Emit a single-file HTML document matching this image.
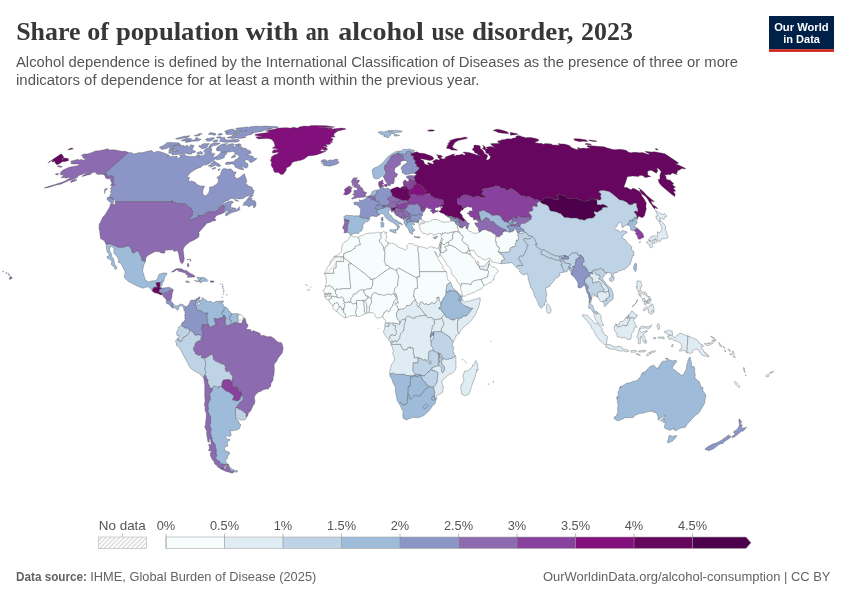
<!DOCTYPE html>
<html lang="en"><head><meta charset="utf-8"><title>Share of population with an alcohol use disorder, 2023</title>
<style>
html,body{margin:0;padding:0;background:#fff;}
body{width:850px;height:600px;overflow:hidden;position:relative;font-family:"Liberation Sans",sans-serif;}
svg{position:absolute;left:0;top:0;}
text{font-family:"Liberation Sans",sans-serif;}
.title{font-family:"Liberation Serif",serif;font-weight:700;font-size:26px;fill:#373737;}
.sub{font-size:14px;fill:#555;}
.leg{font-size:12.8px;fill:#555;text-anchor:middle;}
.foot{font-size:12.6px;fill:#636363;}
.logo{font-weight:700;font-size:11.8px;fill:#fff;text-anchor:middle;}
#map path{stroke:#3c3c3c;stroke-width:0.32;stroke-linejoin:round;}
</style></head><body>
<svg width="850" height="600" viewBox="0 0 850 600">
<defs>
<pattern id="hatch" width="4.6" height="4.6" patternUnits="userSpaceOnUse" patternTransform="rotate(45)"><rect width="4.6" height="4.6" fill="#fff"/><rect x="0" y="0" width="2.3" height="4.6" fill="#e9e9e9"/></pattern>
<pattern id="hatchL" width="3.2" height="3.2" patternUnits="userSpaceOnUse" patternTransform="rotate(45)"><rect width="3.2" height="3.2" fill="#fff"/><rect x="0" y="0" width="1.3" height="3.2" fill="#d9d9d9"/></pattern>
</defs>
<rect width="850" height="600" fill="#fff"/>
<text class="title" y="39.9" xml:space="preserve"><tspan x="16.2" textLength="64.2" lengthAdjust="spacingAndGlyphs">Share</tspan> <tspan x="87.3" textLength="21.7" lengthAdjust="spacingAndGlyphs">of</tspan> <tspan x="115.9" textLength="123.0" lengthAdjust="spacingAndGlyphs">population</tspan> <tspan x="245.4" textLength="53.0" lengthAdjust="spacingAndGlyphs">with</tspan> <tspan x="305.7" textLength="23.3" lengthAdjust="spacingAndGlyphs">an</tspan> <tspan x="338.2" textLength="85.7" lengthAdjust="spacingAndGlyphs">alcohol</tspan> <tspan x="431.6" textLength="32.6" lengthAdjust="spacingAndGlyphs">use</tspan> <tspan x="471.9" textLength="101.5" lengthAdjust="spacingAndGlyphs">disorder,</tspan> <tspan x="581.1" textLength="51.8" lengthAdjust="spacingAndGlyphs">2023</tspan></text>
<text class="sub" x="16" y="66.8" textLength="722" lengthAdjust="spacingAndGlyphs">Alcohol dependence is defined by the International Classification of Diseases as the presence of three or more</text>
<text class="sub" x="16" y="84.8" textLength="463.5" lengthAdjust="spacingAndGlyphs">indicators of dependence for at least a month within the previous year.</text>
<g id="logo">
<rect x="769" y="16" width="65" height="33.2" fill="#002147"/>
<rect x="769" y="49.2" width="65" height="2.7" fill="#ce261e"/>
<text class="logo" x="801.4" y="30.6" textLength="54.5" lengthAdjust="spacingAndGlyphs">Our World</text>
<text class="logo" x="801.6" y="42.6" textLength="36.8" lengthAdjust="spacingAndGlyphs">in Data</text>
</g>
<g id="map">
<path d="M128.4,152.4L131.4,152.7L134.0,154.0L139.4,152.4L141.6,152.7L148.6,151.1L152.1,150.5L153.4,152.7L157.2,151.3L161.3,152.0L166.0,153.7L169.6,155.5L167.3,156.4L169.3,156.6L174.8,156.4L176.8,156.0L177.2,157.3L177.9,158.7L180.9,156.4L179.4,155.3L184.7,154.2L186.3,156.0L190.4,156.6L195.9,156.4L196.7,155.1L198.6,154.6L200.5,155.5L198.9,157.5L201.4,155.7L202.7,155.7L205.4,153.5L204.6,152.2L203.4,151.3L205.7,149.0L209.0,147.5L210.9,147.7L211.6,148.8L211.9,151.1L209.5,152.2L212.3,152.7L210.4,154.9L214.1,153.1L214.9,154.6L213.2,156.2L213.6,157.8L216.6,156.2L219.3,154.2L221.3,151.8L223.4,152.0L225.8,152.2L227.1,153.3L226.2,154.4L224.3,155.7L224.7,156.9L223.7,158.0L219.4,159.6L216.8,159.8L215.4,159.1L214.0,160.2L211.0,162.3L209.9,163.2L206.6,164.8L204.0,165.1L201.9,166.0L200.8,167.4L198.5,167.9L194.8,169.7L191.1,172.3L189.1,174.2L186.9,177.1L189.6,177.4L188.7,179.8L188.6,181.5L191.5,181.0L194.5,182.0L195.8,182.9L196.5,184.2L198.3,184.9L199.9,185.9L202.8,186.1L204.8,186.4L203.5,188.4L202.8,190.8L202.8,193.6L204.6,196.1L206.5,195.3L208.8,192.6L209.7,188.8L209.1,187.4L212.7,186.4L215.7,184.7L217.7,182.9L218.4,181.2L218.2,179.1L216.9,177.4L220.6,174.7L220.9,172.6L222.5,169.0L224.1,168.4L226.8,169.0L228.5,169.3L230.3,168.8L231.6,169.5L233.0,170.9L233.0,171.9L236.3,171.9L235.2,174.0L234.2,177.1L235.7,177.4L236.5,178.8L239.8,177.4L242.9,174.7L244.5,173.8L245.0,175.9L246.1,178.8L246.9,181.7L245.4,183.4L247.4,184.7L248.6,186.1L251.4,186.9L252.4,187.6L252.5,189.6L253.7,190.1L254.2,190.8L253.3,193.8L251.7,194.6L250.0,195.6L246.4,196.3L243.2,198.6L239.7,198.9L235.5,198.4L232.5,198.4L230.4,198.6L228.2,200.4L225.2,201.4L221.0,204.9L217.8,207.2L219.6,206.7L224.0,203.4L229.0,201.4L232.2,201.1L233.5,202.4L231.1,204.0L230.8,206.7L230.8,208.8L233.1,210.0L236.7,209.5L239.6,206.7L239.3,208.5L240.2,209.5L237.3,211.1L232.1,212.6L229.9,213.6L226.8,215.7L225.4,215.4L225.9,213.1L230.3,211.1L227.0,211.1L224.5,211.6L223.6,210.0L224.8,206.5L224.2,205.7L222.2,205.7L220.0,207.5L218.6,209.5L215.4,211.8L208.3,211.8L204.4,214.2L203.1,215.4L198.0,215.7L198.2,216.2L198.1,217.2L194.9,218.5L189.6,220.3L188.5,219.3L190.8,217.0L192.1,215.4L192.9,211.1L191.2,209.8L191.7,209.0L190.9,208.0L189.6,207.7L187.1,205.4L184.2,203.4L182.0,204.2L179.3,203.4L176.9,203.4L175.2,202.7L172.2,202.1L172.6,200.6L171.3,201.6L114.7,201.6L115.6,200.9L113.2,199.1L109.6,197.1L110.1,194.8L111.6,193.3L110.1,192.1L111.3,190.1L110.4,188.4L111.4,187.1L114.7,184.4L113.0,182.7L113.8,178.3L112.9,176.2L110.6,175.7L107.3,177.1L107.2,174.5L104.2,173.8ZM113.4,202.9L109.5,202.1L106.8,199.1L107.6,197.1L112.9,198.1L113.6,201.4ZM104.8,193.6L104.3,190.6L105.2,188.6L107.7,188.8L104.8,191.6ZM242.5,205.2L246.6,205.2L248.9,207.0L250.5,205.7L253.0,204.8L253.6,207.7L254.7,207.5L256.0,205.4L255.9,202.4L254.1,202.9L255.5,201.0L251.1,200.1L252.3,198.4L251.0,198.7L249.3,199.6L251.4,197.3L253.5,195.1L251.5,195.1L248.8,197.3L245.5,201.4L243.4,202.9L244.8,203.7ZM231.4,207.5L236.1,208.3L234.7,209.3L232.1,209.0ZM233.9,199.4L237.0,199.9L238.7,201.4L235.3,200.6ZM243.5,169.9L239.2,169.0L236.0,167.6L234.5,166.5L235.5,165.8L231.7,163.4L231.3,164.1L225.9,164.6L225.0,163.7L227.1,162.1L230.4,162.1L234.1,161.7L234.1,160.9L235.4,159.8L239.0,157.5L239.1,156.6L239.0,155.7L237.1,154.6L234.0,154.0L235.6,153.4L234.7,152.0L233.2,152.0L232.5,151.1L231.2,151.8L227.9,152.2L222.4,151.6L219.3,150.9L216.8,150.7L216.2,149.8L218.6,149.0L216.3,149.0L217.6,146.8L220.6,144.9L223.0,144.1L227.6,143.5L225.3,144.7L225.3,146.2L228.2,144.5L233.1,143.6L234.0,145.8L232.7,147.1L236.3,146.5L238.5,145.7L241.2,146.8L242.8,147.7L242.2,148.8L245.8,148.1L246.4,149.6L249.8,150.5L250.7,151.3L251.1,153.3L247.4,154.4L250.5,155.8L252.9,156.3L254.3,158.4L256.9,158.5L255.6,160.1L251.2,162.8L249.5,161.8L248.0,159.6L245.6,159.9L244.6,161.2L245.7,162.5L247.6,163.6L248.0,164.2L247.9,166.5L246.5,168.2L244.5,167.5L241.1,165.6L242.5,167.7L243.6,169.1ZM215.0,161.2L214.6,162.3L215.7,161.8L216.3,162.5L217.8,163.2L219.4,164.0L218.7,165.1L220.2,164.9L220.9,165.8L218.9,166.5L216.6,165.9L216.2,164.8L213.6,166.1L210.3,167.3L210.6,165.9L208.0,166.1L210.3,165.0L211.8,163.2L213.8,161.2ZM191.5,144.7L194.2,145.8L193.0,147.9L192.0,149.4L195.8,151.6L194.8,152.4L191.9,152.7L192.2,153.5L191.0,154.3L188.2,154.0L185.9,153.3L183.8,153.5L180.0,154.2L175.3,154.6L172.1,154.9L172.3,153.7L170.7,153.1L168.9,153.3L168.7,151.6L169.9,151.4L172.9,151.1L175.2,151.1L177.8,150.7L175.0,150.3L171.2,150.5L168.9,150.5L169.0,149.6L173.7,148.8L171.2,148.8L169.0,148.2L172.2,146.6L174.2,145.8L180.0,144.5L181.1,144.9L179.3,145.9L183.6,145.2L184.6,146.3L187.6,145.2L188.2,146.0L187.4,148.0L189.1,147.1L190.3,145.0ZM169.5,142.4L174.5,142.7L178.5,142.7L179.3,143.3L180.0,144.1L177.2,144.7L171.6,146.2L167.9,147.7L166.9,148.5L161.3,149.6L161.5,148.8L159.2,147.5L161.0,146.6L163.9,145.2L167.3,142.4ZM204.7,143.4L206.2,143.8L209.3,143.6L209.1,144.2L206.6,145.2L208.1,146.1L206.1,148.0L202.6,148.8L201.2,148.6L200.9,147.8L198.5,146.2L199.2,145.5L202.2,145.8L201.8,144.4ZM213.9,145.6L210.7,147.2L209.0,147.1L209.7,145.3L210.8,144.2L212.5,143.4L214.6,142.8L217.8,142.9L220.3,143.4L216.2,145.2ZM219.4,141.3L219.9,140.2L220.8,139.2L220.3,138.3L217.4,138.1L216.3,137.5L217.9,136.7L220.8,136.8L221.8,137.4L224.7,137.4L225.3,138.1L224.2,138.8L225.5,139.3L225.9,139.8L227.9,139.9L230.0,140.0L232.9,139.6L236.2,139.4L238.5,139.6L239.5,140.3L239.1,141.2L237.6,141.7L234.9,142.2L233.1,141.9L228.3,142.2L225.1,142.3L222.8,142.0L219.3,141.3ZM206.6,140.9L208.0,139.7L205.3,139.9L207.1,138.3L208.7,138.4L211.8,137.7L213.8,137.8L214.2,137.6L214.3,138.5L213.1,139.5L210.7,141.0L208.0,141.2ZM217.8,141.1L216.1,141.9L214.0,141.7L212.7,141.2L214.5,140.2L217.3,139.7L217.9,140.4ZM198.2,138.6L197.9,139.3L199.6,139.0L201.1,139.0L200.2,140.0L198.1,141.0L192.5,141.3L187.5,142.2L185.0,142.3L185.6,141.6L190.0,140.7L182.7,140.9L181.0,140.6L185.8,138.6L188.0,138.0L191.3,138.7L192.5,139.9L195.0,140.1L195.3,138.1L197.6,137.4ZM190.0,135.7L187.7,137.2L185.5,137.9L184.0,138.0L179.9,138.9L177.0,139.2L175.6,138.7L180.3,137.3L185.3,136.0L187.6,136.0ZM269.9,126.3L273.4,126.4L276.2,126.6L278.3,127.0L277.9,127.4L273.9,128.1L270.2,128.4L268.6,128.8L271.6,128.8L267.4,129.8L264.6,130.3L260.8,131.7L257.5,132.0L256.3,132.4L251.7,132.6L253.4,132.8L252.1,133.1L252.4,134.1L250.4,134.7L247.6,135.3L246.1,136.0L243.5,136.6L243.2,137.0L245.9,137.0L245.5,137.4L240.3,138.6L236.8,138.1L232.1,138.4L230.0,138.1L227.3,138.0L228.1,137.1L231.4,136.6L232.2,135.3L233.2,135.1L236.3,135.9L235.6,134.7L233.6,134.4L235.6,133.6L238.7,133.2L239.9,132.5L238.6,131.8L239.1,130.9L242.9,131.0L243.8,131.2L246.8,130.6L243.8,130.4L238.7,130.5L236.9,129.9L236.6,129.2L235.6,128.7L236.0,128.2L238.5,127.9L240.1,127.8L243.2,127.6L245.9,127.0L247.5,127.1L248.5,127.5L250.5,126.7L252.6,126.4L255.3,126.3L259.5,126.2L260.0,126.4L264.2,126.1ZM237.7,132.0L238.8,132.6L236.2,133.1L231.9,134.5L229.1,134.6L226.3,134.4L225.7,133.6L226.5,133.0L228.3,132.5L225.6,132.5L224.8,131.9L224.9,131.1L228.6,129.8L230.2,129.7L230.1,129.3L233.5,129.2L234.1,130.1L238.0,130.8ZM219.1,133.4L220.9,133.5L221.6,133.6L222.6,134.3L221.3,134.9L218.6,135.3L218.0,134.9L218.3,134.2ZM210.7,132.6L212.7,132.9L215.7,133.6L215.7,134.5L215.3,135.2L213.1,135.0L211.5,134.4L208.3,134.3L210.5,133.8L209.3,133.3ZM200.3,133.5L200.9,133.6L202.3,133.9L200.0,134.3L197.6,134.3L198.0,134.0ZM200.4,135.1L199.1,135.6L195.6,136.2L194.2,135.6L196.3,135.0L198.7,134.8ZM234.6,144.5L239.6,143.8L241.4,144.9L241.1,145.5L239.5,145.4L237.8,145.4L235.8,145.7L235.4,145.6L234.6,144.5ZM202.7,152.7L203.0,153.5L201.3,154.3L199.6,153.6L198.0,153.9L196.6,152.9L198.7,152.2L200.6,151.3ZM215.6,167.6L216.2,168.1L213.3,169.3L212.1,169.3L212.1,168.7L214.1,167.6ZM219.3,168.8L220.0,168.9L220.2,169.4L218.7,170.6L218.0,170.4L218.0,169.7L218.2,169.5ZM234.9,155.3L235.8,156.0L235.2,156.9L231.4,158.0L231.6,156.9L233.1,155.6Z" fill="#8c96c6"/>
<path d="M299.0,127.0L304.2,126.1L308.9,126.2L310.9,125.6L315.8,125.5L326.5,125.7L334.6,126.9L331.8,127.5L326.5,127.5L319.1,127.7L319.6,128.0L324.6,127.8L328.6,128.3L331.4,127.9L332.4,128.4L330.5,129.4L334.3,128.8L341.2,128.1L345.3,128.5L346.0,129.2L340.0,130.4L339.1,130.8L334.5,131.1L337.8,131.1L335.8,132.5L334.3,133.6L333.8,135.8L335.3,137.0L332.9,137.1L330.3,137.7L332.8,138.8L332.8,140.5L331.1,140.7L332.7,142.4L329.2,142.6L330.9,143.4L330.2,144.2L327.9,144.5L325.6,144.5L327.3,145.9L327.1,146.9L324.1,146.0L323.2,146.6L325.2,147.1L327.1,148.4L327.3,150.1L324.3,150.5L323.2,149.7L321.5,148.5L321.7,149.9L319.5,151.1L323.9,151.2L326.1,151.3L321.3,153.2L316.3,154.9L311.2,155.7L309.3,155.7L307.3,156.5L304.3,158.9L300.1,160.5L298.9,160.6L296.4,161.2L293.7,161.7L291.7,163.1L291.2,164.7L289.8,166.3L286.3,168.1L286.4,170.0L285.0,171.9L283.3,174.2L280.7,174.4L278.6,172.5L275.0,172.4L273.7,171.1L273.3,168.8L271.4,165.9L271.1,164.4L271.7,162.3L270.2,160.2L271.6,158.6L270.8,157.8L273.6,155.2L276.5,154.3L277.6,153.4L278.8,151.7L276.5,152.5L275.4,152.8L273.8,153.1L272.1,152.4L272.7,150.9L273.9,149.8L275.5,149.7L278.5,150.3L276.4,149.0L275.3,148.2L273.5,148.5L272.4,148.0L275.3,146.0L274.8,145.2L274.3,143.8L273.8,141.6L272.3,140.8L272.9,140.0L269.6,138.8L266.4,138.6L262.3,138.7L258.5,138.9L257.2,138.2L255.7,137.0L260.1,136.4L263.2,136.3L257.3,135.8L254.6,135.0L255.5,134.2L261.9,133.3L268.0,132.5L269.2,131.8L265.9,131.2L267.7,130.5L273.7,129.3L275.9,129.1L276.0,128.4L279.6,128.0L284.1,127.7L288.4,127.7L289.5,128.2L293.8,127.3L296.7,127.9L298.5,128.0L301.1,128.6L298.3,127.7Z" fill="#810f7c"/>
<path d="M115.7,201.6L115.0,203.7L113.7,206.0L113.6,203.9L110.9,203.2L109.6,207.0L108.7,208.8L104.7,215.2L102.5,217.5L100.7,221.9L99.2,224.0L99.1,226.6L99.2,229.9L99.8,231.0L99.9,233.6L100.6,238.8L103.1,240.1L104.5,240.9L105.9,244.3L111.6,243.8L111.2,244.3L118.5,247.4L124.6,247.4L125.1,246.1L128.8,246.1L131.4,249.2L131.5,251.8L134.2,253.4L136.1,251.3L138.5,251.3L140.0,255.2L141.3,257.3L141.5,260.2L144.8,261.5L145.5,261.4L145.8,257.8L148.2,255.2L152.3,252.9L155.3,251.6L159.2,251.8L161.2,252.9L164.7,253.2L164.9,250.3L168.5,250.0L173.0,249.8L174.1,251.6L177.0,250.5L178.5,252.9L179.0,256.0L179.8,259.9L180.2,261.5L181.2,263.3L182.8,263.3L183.9,260.7L184.3,258.9L183.8,255.0L183.2,250.8L183.3,249.0L184.6,246.4L186.9,244.3L190.2,241.7L193.1,240.4L196.6,238.5L198.8,237.0L199.2,233.6L198.7,232.5L200.8,230.2L202.4,228.6L203.1,227.6L205.2,225.5L206.3,223.4L210.5,222.2L211.4,221.4L213.2,220.9L214.3,220.9L215.6,220.6L215.9,219.6L214.7,219.6L214.8,218.0L215.6,216.7L217.1,215.2L219.7,214.4L222.1,213.4L224.5,212.4L224.5,211.6L223.6,210.0L224.8,206.5L224.2,205.7L222.2,205.7L220.0,207.5L218.6,209.5L215.4,211.8L208.3,211.8L204.4,214.2L203.1,215.4L198.0,215.7L198.2,216.2L198.1,217.2L194.9,218.5L189.6,220.3L188.5,219.3L190.8,217.0L192.1,215.4L192.9,211.1L191.2,209.8L191.7,209.0L190.9,208.0L189.6,207.7L187.1,205.4L184.2,203.4L182.0,204.2L179.3,203.4L176.9,203.4L175.2,202.7L172.2,202.1L172.6,200.6L171.3,201.6ZM128.4,152.4L125.5,151.3L122.0,151.3L119.1,150.7L113.7,149.8L109.6,150.0L107.7,148.8L103.8,149.8L99.3,150.7L95.7,150.9L90.8,152.9L87.2,154.0L84.2,154.0L81.4,155.2L83.1,156.9L82.8,158.0L85.2,158.4L85.9,159.3L82.8,160.2L81.3,159.2L79.5,160.2L78.0,159.3L74.5,160.2L70.7,161.2L71.4,162.5L70.7,163.4L73.0,164.0L76.5,163.9L79.6,163.9L77.6,165.8L74.4,166.2L70.8,166.9L69.1,167.2L64.2,169.5L61.7,170.9L60.2,173.3L60.6,175.0L63.9,174.5L62.0,176.9L60.9,177.8L64.4,177.4L66.0,178.3L68.0,177.4L71.0,177.1L66.4,180.3L62.9,182.0L58.7,183.2L55.1,184.4L49.8,186.1L44.8,187.6L44.3,188.1L48.5,187.4L51.6,186.6L56.1,185.1L60.7,184.2L68.4,180.7L74.1,179.1L77.9,177.1L77.6,175.9L78.9,175.4L82.4,174.2L85.3,172.8L89.3,171.4L90.1,172.1L86.4,172.8L81.7,176.4L84.8,175.9L86.7,175.2L90.5,174.5L92.0,172.8L94.6,172.3L96.6,172.3L95.7,173.3L98.0,174.5L100.8,174.2L103.5,174.5L104.6,175.2L105.8,178.1L107.4,178.8L110.4,178.8L110.9,181.2L112.0,183.2L110.4,185.6L113.5,185.9L114.7,184.4L113.0,182.7L113.8,178.3L112.9,176.2L110.6,175.7L107.3,177.1L107.2,174.5L104.2,173.8ZM73.8,181.5L70.9,182.5L70.7,181.7L71.6,180.5L74.1,179.8L76.6,179.5L76.8,180.3ZM58.6,165.5L59.0,166.0L60.4,165.8L60.9,166.5L62.4,166.7L61.9,166.9L60.0,167.4L59.2,166.9L59.1,166.5L57.2,166.7L57.2,166.5ZM57.7,173.5L58.9,173.8L57.9,174.7L56.4,175.1L55.3,174.0ZM10.4,279.2L12.3,278.2L11.6,276.9L10.2,276.4L9.5,277.7L9.5,279.4ZM10.0,275.2L8.9,274.3L8.8,275.3ZM7.7,273.8L8.9,273.8L8.2,274.1ZM6.9,273.5L5.7,272.9L6.4,272.5L6.9,273.1ZM3.5,271.7L2.5,271.5L3.1,271.1L3.5,271.2Z" fill="#8c6bb1"/>
<path d="M106.1,244.3L111.6,243.8L111.2,244.3L118.5,247.4L124.6,247.4L125.1,246.1L128.8,246.1L131.4,249.2L131.5,251.8L134.2,253.4L136.1,251.3L138.5,251.3L140.0,255.2L141.3,257.3L141.5,260.2L144.8,261.5L145.5,261.4L143.7,265.2L142.6,270.4L143.3,273.2L144.5,277.2L145.1,279.2L146.3,280.6L148.4,281.9L152.4,280.8L155.4,280.8L157.5,278.7L158.6,275.1L159.0,274.3L163.2,273.0L166.4,273.0L166.8,274.8L165.2,276.4L164.6,277.9L163.7,281.3L162.6,281.1L162.2,280.8L160.6,282.6L156.3,282.6L156.1,284.1L157.2,286.3L157.1,287.2L154.1,287.2L152.7,289.3L152.5,291.3L149.1,287.3L147.3,286.8L143.0,288.3L139.8,287.1L136.1,285.5L131.9,283.2L128.1,281.3L125.3,278.7L123.9,275.9L125.1,274.0L124.9,270.9L122.7,267.0L120.9,263.3L118.2,262.3L118.7,259.4L116.8,256.3L114.0,253.4L113.8,247.7L110.5,246.1L109.4,250.3L111.4,253.9L111.8,256.5L113.8,259.4L114.7,264.4L116.3,266.2L116.8,268.5L115.2,269.6L113.8,266.5L111.2,264.6L112.0,261.2L109.6,259.2L107.5,258.4L106.8,256.8L108.9,255.8L109.3,254.5L107.1,251.8L106.2,246.6Z" fill="#9ebcda"/>
<path d="M152.5,291.3L152.7,289.3L154.1,287.2L157.1,287.2L157.2,286.3L156.1,284.1L156.3,282.6L160.5,282.6L159.8,287.6L160.4,287.6L162.0,288.1L159.5,289.7L159.5,290.7L159.0,291.5L157.1,293.2L154.6,292.8Z" fill="#66065f"/>
<path d="M160.5,282.6L160.6,282.3L162.2,280.8L162.6,281.1L163.0,281.9L162.3,283.2L162.4,284.7L160.4,287.6L159.8,287.6Z" fill="#9ebcda"/>
<path d="M157.1,293.2L159.0,291.5L160.8,293.0L162.4,292.8L162.3,294.1L162.0,294.8L160.6,294.8Z" fill="#66065f"/>
<path d="M159.0,291.5L159.5,290.7L159.5,289.7L162.0,288.1L163.6,287.9L167.1,287.6L169.4,287.3L170.7,287.9L172.8,289.2L173.3,290.0L171.3,290.6L169.3,290.5L167.2,292.7L166.3,292.6L164.7,293.2L163.3,295.2L163.0,294.4L162.3,294.1L162.4,292.8L160.8,293.0Z" fill="#8c96c6"/>
<path d="M163.3,295.2L164.7,293.2L166.3,292.6L167.2,292.7L169.3,290.5L171.3,290.6L173.3,290.0L172.2,293.6L171.9,296.7L171.4,298.8L170.8,300.5L168.9,300.1L166.6,300.1L164.9,298.3L162.4,295.4Z" fill="#8c6bb1"/>
<path d="M166.6,300.1L168.9,300.1L170.8,300.5L171.8,302.0L173.6,304.1L172.7,305.3L172.6,308.0L171.2,307.0L170.8,306.4L168.7,304.0L167.7,304.0L166.4,303.3L166.1,300.7Z" fill="#8c96c6"/>
<path d="M173.6,304.1L174.3,305.1L176.1,306.1L178.5,305.3L180.4,304.0L182.9,304.6L185.4,306.5L185.0,306.9L185.7,308.4L184.0,310.3L183.4,307.4L182.5,306.4L181.4,305.6L180.3,305.9L178.8,307.4L178.2,310.0L177.1,310.3L176.4,309.1L175.3,308.0L172.6,308.0L172.7,305.3Z" fill="#9ebcda"/>
<path d="M171.3,272.1L172.6,271.2L175.5,269.1L177.8,268.6L181.6,268.8L184.3,270.6L186.5,270.4L188.9,272.6L190.9,273.8L192.2,274.2L193.6,275.1L195.2,276.2L194.9,276.8L193.3,277.1L187.0,277.3L188.6,275.9L187.8,275.2L186.4,275.0L185.3,272.7L184.1,272.8L182.1,272.1L178.6,271.2L177.8,270.7L178.7,270.0L176.5,269.9L174.7,271.2L173.4,271.9Z" fill="#8c6bb1"/>
<path d="M197.3,277.1L200.6,277.7L200.7,279.1L199.8,280.5L200.2,282.0L198.7,281.6L197.6,281.7L196.3,281.5L194.3,280.4L198.1,280.9L198.9,280.4L198.0,279.2L198.1,278.3L196.7,277.8Z" fill="#9ebcda"/>
<path d="M200.6,277.7L202.7,277.2L204.6,277.8L204.9,278.8L206.2,278.7L208.0,280.5L207.1,281.6L205.0,281.1L203.8,281.5L202.9,281.7L201.9,281.4L200.8,283.2L200.2,282.0L199.8,280.5L200.7,279.1Z" fill="#9ebcda"/>
<path d="M187.0,280.8L188.5,281.1L189.9,282.4L188.3,282.5L186.3,282.5L185.2,281.5Z" fill="#9ebcda"/>
<path d="M210.5,280.8L214.1,281.1L213.6,282.2L210.4,282.3Z" fill="#8c6bb1"/>
<path d="M187.8,263.3L188.4,263.3L189.0,265.7L188.1,267.2L187.1,264.9ZM189.4,258.9L191.0,259.7L190.3,261.5L190.1,259.9ZM186.9,259.2L188.8,259.4L187.6,259.9Z" fill="#8c6bb1"/>
<path d="M221.1,301.2L223.4,300.8L223.1,302.7L221.1,302.7Z" fill="#9ebcda"/>
<path d="M222.0,284.5L222.5,283.9L223.0,284.5L222.4,285.0ZM220.0,283.9L220.4,283.6L220.7,283.9L220.3,284.3ZM222.2,286.7L222.9,285.9L223.5,286.7L222.8,287.5ZM222.7,288.9L223.2,288.3L223.6,288.9L223.1,289.4ZM223.2,290.9L223.8,290.2L224.4,290.9L223.8,291.5ZM223.3,292.8L223.7,292.4L224.1,292.8L223.7,293.3ZM222.8,294.6L223.1,294.3L223.4,294.6L223.1,295.0ZM226.4,294.8L226.9,294.3L227.3,294.8L226.8,295.2ZM221.5,297.5L221.8,297.1L222.2,297.5L221.8,297.9Z" fill="#9ebcda"/>
<path d="M185.4,306.5L186.7,306.7L188.4,304.8L189.3,304.6L189.9,301.4L191.4,300.1L192.8,300.1L194.8,299.9L197.7,298.0L199.6,296.7L200.3,297.5L199.7,298.3L198.2,298.8L195.9,301.8L195.5,303.8L194.8,305.2L195.9,305.4L196.7,307.2L196.5,309.7L197.1,310.0L200.5,310.6L201.9,310.9L203.4,313.2L207.3,312.7L208.1,313.2L207.0,315.5L207.0,317.4L208.1,320.0L206.9,321.8L207.8,322.3L208.2,323.2L208.9,325.8L208.5,326.2L208.1,324.6L206.6,324.7L202.2,324.7L202.2,326.3L203.6,326.5L203.5,327.5L203.0,327.3L201.7,327.7L201.7,329.6L202.7,330.5L203.1,332.0L202.1,340.3L200.9,338.9L200.2,338.9L201.7,336.2L199.9,335.0L198.6,335.2L197.7,334.8L196.5,335.4L194.7,335.1L193.3,332.4L192.2,331.7L189.3,329.5L188.3,328.9L187.2,328.0L186.5,328.4L184.6,328.1L184.0,326.9L183.6,327.0L181.3,325.5L181.0,324.7L181.9,324.5L181.8,323.2L182.4,322.2L183.5,322.1L184.6,320.5L185.4,319.1L184.6,318.4L185.1,316.9L184.6,314.5L185.2,313.8L184.9,311.6L184.0,310.3L185.7,308.4L185.0,306.9Z" fill="#8c96c6"/>
<path d="M199.7,298.3L199.6,299.0L198.2,299.3L198.9,300.5L198.8,301.8L197.7,303.3L198.4,305.4L199.4,305.2L200.0,303.4L199.4,302.5L199.4,300.5L202.3,299.4L202.1,298.2L202.9,297.4L203.6,299.2L205.2,299.2L206.6,300.7L206.7,301.6L208.7,301.6L211.2,301.3L212.4,302.5L214.2,302.8L215.5,302.0L215.6,301.3L218.4,301.2L221.2,301.1L219.2,301.9L219.9,303.1L221.7,303.3L223.4,304.6L223.7,306.7L224.9,306.7L225.8,307.3L223.9,308.8L223.7,309.8L224.4,310.7L223.9,311.2L222.4,311.6L222.4,312.8L221.8,313.5L223.3,315.5L223.6,316.3L222.7,317.3L220.1,318.2L218.5,318.6L217.8,319.3L215.9,318.6L214.2,318.3L213.8,318.5L214.8,319.2L214.7,320.9L215.0,322.6L217.0,322.8L217.1,323.4L215.4,324.1L215.1,325.2L214.2,325.6L212.5,326.2L212.0,327.0L210.2,327.2L208.9,325.8L208.2,323.2L207.8,322.3L206.9,321.8L208.1,320.0L207.0,317.4L207.0,315.5L208.1,313.2L207.3,312.7L203.4,313.2L201.9,310.9L200.5,310.6L197.1,310.0L196.5,309.7L196.7,307.2L195.9,305.4L194.8,305.2L195.5,303.8L195.9,301.8L198.2,298.8Z" fill="#9ebcda"/>
<path d="M225.8,307.3L227.3,308.2L228.6,309.9L228.7,311.3L229.5,311.3L230.7,312.6L231.6,313.5L231.2,315.9L229.8,316.5L229.9,317.1L229.4,318.5L230.4,320.4L231.1,320.4L231.4,321.9L232.8,324.1L232.2,324.2L230.9,324.0L230.2,324.7L229.2,325.2L228.4,325.3L228.2,325.8L227.0,325.7L225.6,324.4L225.5,323.2L224.9,321.9L225.3,319.7L226.0,318.8L225.5,317.6L224.7,317.2L225.0,316.0L224.5,315.4L223.3,315.5L221.8,313.5L222.4,312.8L222.4,311.6L223.9,311.2L224.4,310.7L223.7,309.8L223.9,308.8Z" fill="#9ebcda"/>
<path d="M231.6,313.5L234.3,314.0L234.6,313.6L236.5,313.4L238.9,314.1L237.7,316.3L237.8,318.1L238.7,319.7L238.3,320.8L238.0,322.0L237.5,323.1L236.1,322.5L235.0,322.8L234.1,322.5L233.9,323.3L234.2,323.8L234.1,324.3L232.8,324.1L231.4,321.9L231.1,320.4L230.4,320.4L229.4,318.5L229.9,317.1L229.8,316.5L231.2,315.9Z" fill="#9ebcda"/>
<path d="M238.9,314.1L239.7,314.4L241.4,315.0L243.8,317.2L244.1,318.2L242.7,320.6L242.0,322.6L241.1,323.6L240.0,323.7L239.7,323.0L239.2,322.9L238.4,323.6L237.5,323.1L238.0,322.0L238.3,320.8L238.7,319.7L237.8,318.1L237.7,316.3Z" fill="url(#hatch)" stroke="#b8b8b8"/>
<path d="M244.1,318.2L244.9,318.1L245.5,319.6L246.7,324.1L247.9,324.6L248.0,326.4L246.2,328.5L246.9,329.3L251.0,329.7L251.1,332.3L252.9,330.6L255.7,331.6L259.6,333.1L260.7,334.7L260.4,336.1L263.0,335.3L267.5,336.7L271.0,336.6L274.4,338.8L277.4,341.7L279.2,342.4L281.1,342.5L282.0,343.4L282.8,346.7L283.2,348.3L282.4,352.6L281.3,354.3L278.2,357.9L276.8,360.9L275.2,363.1L274.6,363.2L274.1,365.1L274.4,370.0L274.0,374.0L273.9,375.7L273.2,376.8L273.0,380.3L270.9,383.6L270.7,386.4L268.9,387.5L268.5,389.1L266.1,389.1L262.6,390.0L261.1,391.2L258.7,392.0L256.2,394.1L254.5,396.6L254.4,398.6L254.9,400.0L254.8,402.7L254.5,403.9L253.1,405.4L251.2,410.0L249.6,412.0L248.3,413.3L247.7,415.8L246.5,417.2L245.7,415.8L246.4,414.5L244.9,412.8L242.9,411.3L240.4,409.6L239.6,409.7L237.0,407.7L235.6,408.0L238.1,404.4L240.2,401.9L241.6,400.8L243.3,399.4L243.1,397.3L241.8,395.8L240.8,396.3L241.0,394.8L241.2,393.2L241.1,391.8L240.2,391.3L239.4,391.7L238.5,391.6L238.2,390.6L237.8,388.2L237.3,387.5L235.7,386.8L234.8,387.3L232.4,386.8L232.2,383.2L231.4,381.8L232.1,381.2L231.7,379.7L232.3,378.6L232.5,376.5L231.8,374.9L230.5,374.2L230.2,373.2L230.4,371.6L226.0,371.5L224.9,368.5L225.6,368.5L225.5,367.3L225.0,366.6L224.8,365.1L223.4,364.3L222.0,364.3L221.0,363.6L219.4,363.0L218.4,362.1L215.8,361.6L213.2,359.3L213.3,357.5L213.0,356.5L213.1,354.6L210.1,355.0L209.0,356.0L207.0,357.1L206.6,357.8L205.4,357.9L203.7,357.7L202.4,358.1L201.3,357.8L201.3,353.9L199.5,355.4L197.5,355.3L196.5,353.9L195.0,353.8L195.4,352.7L194.1,351.1L193.0,348.7L193.6,348.3L193.5,347.2L194.9,346.4L194.6,345.0L195.2,344.1L195.3,342.9L197.9,341.1L199.8,340.6L200.1,340.2L202.1,340.3L203.1,332.0L202.7,330.5L201.7,329.6L201.7,327.7L203.0,327.3L203.5,327.5L203.6,326.5L202.2,326.3L202.2,324.7L206.6,324.7L208.1,324.6L208.5,326.2L208.9,325.8L210.2,327.2L212.0,327.0L212.5,326.2L214.2,325.6L215.1,325.2L215.4,324.1L217.1,323.4L217.0,322.8L215.0,322.6L214.7,320.9L214.8,319.2L213.8,318.5L214.2,318.3L215.9,318.6L217.8,319.3L218.5,318.6L220.1,318.2L222.7,317.3L223.6,316.3L223.3,315.5L224.5,315.4L225.0,316.0L224.7,317.2L225.5,317.6L226.0,318.8L225.3,319.7L224.9,321.9L225.5,323.2L225.6,324.4L227.0,325.7L228.2,325.8L228.4,325.3L229.2,325.2L230.2,324.7L230.9,324.0L232.2,324.2L232.8,324.1L234.1,324.3L234.2,323.8L233.9,323.3L234.1,322.5L235.0,322.8L236.1,322.5L237.5,323.1L238.4,323.6L239.2,322.9L239.7,323.0L240.0,323.7L241.1,323.6L242.0,322.6L242.7,320.6Z" fill="#8c6bb1"/>
<path d="M181.3,325.5L179.7,326.5L178.5,327.1L178.6,328.2L177.7,329.8L177.3,331.5L176.5,331.9L177.0,334.2L176.5,335.0L177.9,336.1L178.8,334.9L179.3,336.0L178.1,338.0L178.4,339.1L177.9,340.7L179.7,340.7L180.7,342.0L182.0,341.0L182.4,339.2L183.8,336.9L186.5,335.9L189.0,333.2L189.7,331.5L189.3,329.5L188.3,328.9L187.2,328.0L186.5,328.4L184.6,328.1L184.0,326.9L183.6,327.0Z" fill="#bfd3e6"/>
<path d="M178.1,338.0L176.3,339.6L175.6,341.5L176.8,344.0L176.1,345.1L179.7,347.9L180.5,349.8L183.9,356.2L186.5,361.0L188.7,364.4L188.4,365.2L191.4,369.0L195.8,371.8L200.6,374.4L200.9,375.5L203.3,377.0L204.4,376.3L204.9,375.0L206.0,372.2L204.9,370.0L205.3,369.1L204.8,368.1L205.6,366.8L205.5,364.6L205.5,362.8L205.9,361.9L203.7,357.7L202.4,358.1L201.3,357.8L201.3,353.9L199.5,355.4L197.5,355.3L196.5,353.9L195.0,353.8L195.4,352.7L194.1,351.1L193.0,348.7L193.6,348.3L193.5,347.2L194.9,346.4L194.6,345.0L195.2,344.1L195.3,342.9L197.9,341.1L199.8,340.6L200.1,340.2L202.1,340.3L200.9,338.9L200.2,338.9L201.7,336.2L199.9,335.0L198.6,335.2L197.7,334.8L196.5,335.4L194.7,335.1L193.3,332.4L192.2,331.7L189.3,329.5L189.7,331.5L189.0,333.2L186.5,335.9L183.8,336.9L182.4,339.2L182.0,341.0L180.7,342.0L179.7,340.7L177.9,340.7L178.4,339.1Z" fill="#bfd3e6"/>
<path d="M204.9,375.0L206.2,376.8L206.6,378.6L208.0,379.8L207.5,382.3L209.0,385.2L210.3,388.8L211.9,388.5L212.2,389.1L213.5,386.1L216.5,386.7L218.0,388.6L218.7,386.5L221.3,386.6L221.7,387.2L222.2,382.6L223.1,380.3L227.0,379.6L229.1,379.6L231.3,381.0L231.4,381.8L232.1,381.2L231.7,379.7L232.3,378.6L232.5,376.5L231.8,374.9L230.5,374.2L230.2,373.2L230.4,371.6L226.0,371.5L224.9,368.5L225.6,368.5L225.5,367.3L225.0,366.6L224.8,365.1L223.4,364.3L222.0,364.3L221.0,363.6L219.4,363.0L218.4,362.1L215.8,361.6L213.2,359.3L213.3,357.5L213.0,356.5L213.1,354.6L210.1,355.0L209.0,356.0L207.0,357.1L206.6,357.8L205.4,357.9L203.7,357.7L205.9,361.9L205.5,362.8L205.5,364.6L205.6,366.8L204.8,368.1L205.3,369.1L204.9,370.0L206.0,372.2Z" fill="#bfd3e6"/>
<path d="M231.4,381.8L232.2,383.2L232.4,386.8L234.8,387.3L235.7,386.8L237.3,387.5L237.8,388.2L238.2,390.6L238.5,391.6L239.4,391.7L240.2,391.3L241.1,391.8L241.2,393.2L241.0,394.8L240.8,396.3L240.7,398.6L238.9,400.6L237.2,401.0L234.6,400.6L232.3,399.9L234.0,395.9L231.1,393.7L228.2,391.8L226.3,391.4L221.7,387.2L222.2,382.6L223.1,380.3L227.0,379.6L229.1,379.6L231.3,381.0Z" fill="#88419d"/>
<path d="M246.5,417.2L245.9,418.9L243.7,420.3L242.0,419.8L240.8,420.1L238.6,419.0L237.2,419.0L235.6,417.6L235.4,415.9L235.8,415.3L235.3,412.7L235.4,410.1L235.6,408.0L237.0,407.7L239.6,409.7L240.4,409.6L242.9,411.3L244.9,412.8L246.4,414.5L245.7,415.8Z" fill="#bfd3e6"/>
<path d="M235.6,417.6L235.7,419.0L238.9,421.2L238.9,423.0L240.5,424.1L240.7,425.4L239.3,428.7L236.5,430.1L232.3,430.7L229.9,430.4L230.7,432.0L230.8,433.9L231.5,435.2L230.5,436.1L228.4,436.5L226.1,435.5L225.5,436.2L226.5,438.8L228.2,439.6L229.1,438.7L230.1,440.1L228.4,440.9L227.2,442.5L227.7,445.1L227.6,446.5L225.7,446.5L224.5,447.8L224.6,449.7L227.2,451.6L229.3,452.1L229.4,454.4L227.5,455.8L227.3,458.8L225.8,459.7L225.5,460.9L227.2,463.5L229.1,465.0L228.2,464.9L226.2,464.5L221.3,464.1L219.9,462.7L219.1,460.8L217.8,461.0L216.8,460.1L215.5,457.4L216.6,456.3L216.6,454.6L215.9,453.4L216.2,451.2L215.8,447.8L215.0,446.3L215.7,445.8L215.2,444.8L214.1,444.3L214.4,443.2L213.1,442.3L211.6,439.3L212.3,438.8L210.9,435.6L210.6,433.0L210.6,430.7L211.6,429.7L210.2,427.2L209.6,424.8L210.8,423.1L210.2,420.9L210.9,418.3L210.3,415.9L209.7,415.5L207.7,411.0L208.5,408.3L207.8,405.8L208.2,403.4L209.3,400.9L210.6,399.3L209.8,398.3L210.1,397.5L209.5,393.1L211.7,391.8L212.2,389.1L211.9,388.5L212.2,389.1L213.5,386.1L216.5,386.7L218.0,388.6L218.7,386.5L221.3,386.6L221.7,387.2L226.3,391.4L228.2,391.8L231.1,393.7L234.0,395.9L232.3,399.9L234.6,400.6L237.2,401.0L238.9,400.6L240.7,398.6L240.8,396.3L241.8,395.8L243.1,397.3L243.3,399.4L241.6,400.8L240.2,401.9L238.1,404.4L235.6,408.0L235.4,410.1L235.3,412.7L235.8,415.3L235.4,415.9ZM228.4,465.7L229.7,466.9L231.4,468.7L234.6,470.2L237.6,470.8L237.2,472.1L235.4,472.2L234.1,471.3L232.9,471.3L230.8,471.3Z" fill="#9ebcda"/>
<path d="M203.3,377.0L204.2,380.7L204.8,384.9L204.7,390.8L204.7,396.2L205.1,401.2L204.3,404.4L205.2,407.7L204.9,409.8L206.3,413.7L206.2,417.6L205.7,421.8L205.5,426.0L204.6,426.1L205.6,429.0L206.9,431.5L206.5,433.3L207.3,438.1L207.9,441.8L209.4,442.2L208.9,438.9L210.5,439.6L211.3,444.9L208.7,444.0L209.5,448.3L208.4,450.6L211.7,451.3L210.3,453.3L210.4,455.7L212.5,460.1L214.2,461.7L214.3,463.2L215.6,464.8L218.7,466.2L222.2,468.4L224.3,468.8L224.4,466.4L226.4,464.8L229.1,465.0L228.2,464.9L226.2,464.5L221.3,464.1L219.9,462.7L219.1,460.8L217.8,461.0L216.8,460.1L215.5,457.4L216.6,456.3L216.6,454.6L215.9,453.4L216.2,451.2L215.8,447.8L215.0,446.3L215.7,445.8L215.2,444.8L214.1,444.3L214.4,443.2L213.1,442.3L211.6,439.3L212.3,438.8L210.9,435.6L210.6,433.0L210.6,430.7L211.6,429.7L210.2,427.2L209.6,424.8L210.8,423.1L210.2,420.9L210.9,418.3L210.3,415.9L209.7,415.5L207.7,411.0L208.5,408.3L207.8,405.8L208.2,403.4L209.3,400.9L210.6,399.3L209.8,398.3L210.1,397.5L209.5,393.1L211.7,391.8L212.2,389.1L211.9,388.5L210.3,388.8L209.0,385.2L207.5,382.3L208.0,379.8L206.6,378.6L206.2,376.8L204.9,375.0L204.4,376.3ZM228.4,465.7L230.8,471.3L232.9,471.3L234.1,471.3L233.9,472.3L232.6,473.1L231.6,473.0L230.4,472.8L228.6,472.1L226.5,471.7L223.4,470.3L220.8,469.0L216.8,466.2L218.7,466.7L222.2,468.4L225.1,469.3L225.7,468.2L225.5,466.4L226.9,465.4Z" fill="#8c6bb1"/>
<path d="M322.8,165.2L324.7,164.1L321.1,163.0L324.3,162.6L324.3,161.9L320.8,161.4L322.2,159.9L324.9,159.5L327.3,161.1L330.2,159.8L332.2,160.5L335.2,159.3L338.1,159.4L337.5,160.9L339.3,162.5L336.8,164.2L331.5,165.8L329.9,166.2L327.6,165.9Z" fill="#8c96c6"/>
<path d="M351.1,189.4L351.3,191.2L349.7,193.4L346.2,194.9L343.4,194.5L345.1,191.9L344.3,189.4L347.0,187.5L348.5,186.3L348.9,187.6L348.4,188.9L349.6,188.9Z" fill="#88419d"/>
<path d="M352.2,187.7L351.1,189.4L349.6,188.9L348.4,188.9L348.9,187.6L348.5,186.3L350.2,186.2ZM357.5,177.7L355.4,180.4L357.3,180.0L359.4,180.1L358.9,182.0L357.1,184.2L359.1,184.4L361.0,187.6L362.3,188.0L363.5,190.8L364.0,191.8L366.4,192.2L366.2,193.8L365.2,194.6L366.0,195.9L364.2,197.2L361.5,197.2L358.1,197.8L357.2,197.3L355.9,198.5L354.0,198.2L352.6,199.2L351.5,198.7L354.6,196.1L356.3,195.5L353.2,195.1L352.7,194.1L354.8,193.3L353.8,192.0L354.2,190.3L357.1,190.6L357.4,189.1L356.1,187.6L353.8,187.1L353.3,186.5L354.1,185.4L353.4,184.7L352.4,185.9L352.4,183.5L351.4,182.2L352.2,179.7L353.8,177.8L355.2,178.0Z" fill="#8c6bb1"/>
<path d="M344.1,219.9L344.9,219.2L345.8,218.8L346.2,220.1L347.5,220.1L347.9,219.8L349.1,219.9L349.6,221.2L348.6,221.9L348.5,223.9L348.2,224.3L348.1,225.5L347.1,225.7L347.9,227.3L347.3,229.0L348.0,229.7L347.7,230.5L346.9,231.4L347.1,232.3L346.1,233.0L345.0,232.6L343.9,232.9L344.3,230.8L344.2,229.2L343.2,229.0L342.7,228.0L343.0,226.3L343.8,225.4L344.0,224.3L344.5,222.8L344.5,221.7L344.2,220.8Z" fill="#8c6bb1"/>
<path d="M344.1,219.9L344.3,218.0L343.5,216.9L346.5,215.1L349.0,215.5L351.8,215.5L354.0,216.0L355.8,215.8L359.1,215.9L360.0,216.9L361.7,217.5L363.8,218.1L364.6,217.5L366.9,218.7L369.4,218.4L369.5,219.9L367.5,221.6L364.8,222.1L364.6,223.0L363.3,224.4L362.5,226.5L363.3,228.0L362.1,229.2L361.6,230.9L360.0,231.4L358.5,233.4L355.7,233.4L353.7,233.4L352.3,234.3L351.5,235.3L350.4,235.1L349.6,234.2L349.0,232.7L347.1,232.3L346.9,231.4L347.7,230.5L348.0,229.7L347.3,229.0L347.9,227.3L347.1,225.7L348.1,225.5L348.2,224.3L348.5,223.9L348.6,221.9L349.6,221.2L349.1,219.9L347.9,219.8L347.5,220.1L346.2,220.1L345.8,218.8L344.9,219.2Z" fill="#9ebcda"/>
<path d="M359.1,215.9L360.2,214.4L360.7,209.3L358.6,206.6L357.1,205.3L354.0,204.3L353.8,202.4L356.4,201.9L359.8,202.5L359.2,199.7L361.1,200.8L365.8,198.8L366.4,196.7L368.1,196.2L368.4,197.1L369.3,197.1L370.3,198.1L371.7,199.3L372.7,199.1L374.5,200.3L375.0,200.5L375.5,200.5L376.5,201.1L379.4,201.6L378.5,203.3L378.3,205.1L377.7,205.6L376.8,205.3L376.9,206.0L375.4,207.4L375.4,208.6L376.4,208.2L377.1,209.3L377.1,210.0L377.7,211.0L377.0,211.8L377.6,213.8L378.8,214.1L378.6,215.2L376.7,216.7L372.6,216.0L369.6,216.8L369.4,218.4L366.9,218.7L364.6,217.5L363.8,218.1L361.7,217.5L360.0,216.9ZM381.4,217.9L382.7,217.0L383.2,219.2L382.6,221.2L381.6,220.7L381.0,218.9Z" fill="#8c96c6"/>
<path d="M368.1,196.2L369.7,195.7L371.1,195.9L372.9,195.4L374.2,196.5L375.4,197.1L375.2,198.8L374.7,198.9L374.5,200.3L372.7,199.1L371.7,199.3L370.3,198.1L369.3,197.1L368.4,197.1Z" fill="#8c6bb1"/>
<path d="M374.5,200.3L374.7,198.9L375.2,198.8L375.6,199.4L375.5,200.5L375.0,200.5Z" fill="#8c6bb1"/>
<path d="M369.7,195.7L370.7,195.0L372.3,191.4L374.9,190.3L376.6,190.4L377.0,191.2L376.6,193.5L376.1,194.5L374.9,194.5L375.4,197.1L374.2,196.5L372.9,195.4L371.1,195.9Z" fill="#9ebcda"/>
<path d="M376.6,190.4L376.9,189.9L378.5,189.7L378.9,190.3L380.2,189.0L379.7,188.1L379.5,186.7L381.0,187.0L382.2,186.7L382.3,187.6L384.3,188.2L384.3,189.1L386.3,188.6L387.3,187.9L389.6,188.9L390.6,189.7L391.1,191.0L390.6,191.6L391.4,192.5L392.0,193.9L392.0,194.7L392.9,196.3L392.0,196.6L391.5,196.3L391.0,196.8L389.7,197.3L389.0,197.9L387.5,198.4L388.0,199.2L388.2,200.2L389.3,200.9L390.5,201.9L389.9,203.1L389.2,203.4L389.6,205.1L389.4,205.5L388.7,205.0L387.8,204.9L386.4,205.4L384.5,205.3L384.3,206.0L383.2,205.2L382.6,205.4L380.4,204.6L380.0,205.2L378.3,205.1L378.5,203.3L379.4,201.6L376.5,201.1L375.5,200.5L375.6,199.4L375.2,198.8L375.4,197.1L374.9,194.5L376.1,194.5L376.6,193.5L377.0,191.2Z" fill="#8c96c6"/>
<path d="M382.6,205.4L382.7,205.8L382.4,206.5L383.4,206.9L384.4,207.0L384.3,208.1L383.4,208.5L381.9,208.2L381.5,209.2L380.5,209.3L380.2,208.9L379.1,209.7L378.1,209.8L377.1,209.3L376.4,208.2L375.4,208.6L375.4,207.4L376.9,206.0L376.8,205.3L377.7,205.6L378.3,205.1L380.0,205.2L380.4,204.6Z" fill="#8c96c6"/>
<path d="M397.5,203.9L397.4,204.9L396.3,204.9L396.7,205.4L396.2,207.1L395.8,207.5L394.1,207.6L393.1,208.2L391.4,208.0L388.4,207.3L387.9,206.4L385.9,206.9L385.7,207.4L384.4,207.0L383.4,206.9L382.4,206.5L382.7,205.8L382.6,205.4L383.2,205.2L384.3,206.0L384.5,205.3L386.4,205.4L387.8,204.9L388.7,205.0L389.4,205.5L389.6,205.1L389.2,203.4L389.9,203.1L390.5,201.9L392.1,202.8L393.1,201.7L393.8,201.5L395.5,202.3L396.4,202.2L397.4,202.7L397.2,203.0Z" fill="#8c6bb1"/>
<path d="M378.6,215.2L379.4,215.0L381.5,213.5L384.3,214.6L385.1,217.2L386.6,218.6L388.6,220.3L390.3,221.5L391.9,221.7L392.9,222.7L394.2,223.2L394.9,224.3L395.8,224.6L396.6,225.9L397.5,227.4L396.8,230.2L397.6,230.0L398.7,227.8L399.5,227.6L399.7,226.2L398.1,225.3L398.9,223.6L400.7,224.0L402.0,225.2L402.3,224.3L402.1,223.8L400.2,222.5L398.6,221.7L396.6,220.8L397.1,220.2L394.9,219.7L392.5,217.6L391.3,215.5L389.3,214.2L388.5,212.9L388.6,210.9L390.1,209.9L391.8,210.3L391.3,209.2L391.4,208.0L388.4,207.3L387.9,206.4L385.9,206.9L385.7,207.4L384.4,207.0L384.3,208.1L383.4,208.5L381.9,208.2L381.5,209.2L380.5,209.3L380.2,208.9L379.1,209.7L378.1,209.8L377.1,209.3L377.1,210.0L377.7,211.0L377.0,211.8L377.6,213.8L378.8,214.1ZM396.4,229.3L395.7,231.4L396.1,232.2L395.7,233.5L394.0,232.5L392.9,232.3L389.8,231.0L390.1,229.6L392.6,229.9L394.7,229.6ZM382.5,221.6L383.9,223.4L383.7,226.9L382.7,226.7L381.9,227.6L381.1,226.9L380.9,223.8L380.4,222.3L381.5,222.4Z" fill="#9ebcda"/>
<path d="M378.7,185.3L378.5,182.8L378.8,182.2L379.2,181.5L380.9,181.3L381.5,180.6L383.0,179.9L383.0,181.2L382.5,182.0L382.8,182.7L383.8,183.0L383.5,184.0L382.9,183.7L381.6,185.5L382.2,186.7L381.0,187.0L379.5,186.7ZM386.7,183.9L387.4,185.1L386.4,187.1L384.3,185.7L383.9,184.7ZM381.9,185.4L383.6,185.4L383.9,186.4L382.3,186.5Z" fill="#88419d"/>
<path d="M383.6,177.2L382.3,175.7L378.8,178.5L376.3,179.1L373.7,177.9L372.9,175.3L372.1,169.8L373.7,168.3L378.3,166.3L381.6,163.9L384.5,160.7L388.2,156.4L390.8,154.7L394.9,152.0L398.4,151.0L401.1,151.1L403.3,149.3L406.3,149.4L409.1,149.0L414.7,150.6L412.7,151.1L414.9,152.5L412.3,153.4L411.0,153.6L411.3,152.1L409.0,151.2L406.6,151.9L406.1,153.6L404.7,154.5L402.8,154.0L400.6,154.1L398.6,152.9L397.7,153.5L396.6,153.6L396.6,155.1L393.4,154.7L393.2,155.9L391.5,155.9L390.6,157.5L389.2,160.0L386.9,163.2L387.6,164.0L387.1,164.9L385.3,164.9L384.4,167.1L384.8,170.2L386.1,171.4L385.7,174.2L384.3,175.8ZM384.9,132.0L385.3,131.3L387.4,131.3L389.4,131.9L394.5,133.3L391.0,134.0L390.5,135.4L389.3,135.8L388.9,137.4L387.1,137.5L383.7,136.3L384.9,135.6L382.6,135.0L379.5,133.4L378.1,132.0L382.0,131.4L382.9,132.0ZM399.8,135.3L396.7,136.1L394.0,135.7L394.9,135.2L393.8,134.6L396.7,134.2L397.5,134.9ZM402.3,131.3L400.5,132.2L396.4,132.5L392.1,132.1L391.7,131.7L389.6,131.6L387.8,130.8L392.1,130.3L394.3,130.7L395.6,130.2L399.3,130.7Z" fill="#9ebcda"/>
<path d="M383.6,177.2L385.3,180.7L387.1,183.4L387.9,185.7L390.2,185.6L391.1,183.7L393.4,183.9L394.2,181.6L394.5,177.6L396.3,177.0L397.7,174.3L395.7,173.0L394.2,171.3L395.1,168.0L398.2,166.0L400.8,164.1L400.2,162.7L401.7,161.1L404.5,160.4L403.8,159.6L403.0,156.1L400.1,154.6L397.7,153.5L396.6,153.6L396.6,155.1L393.4,154.7L393.2,155.9L391.5,155.9L390.6,157.5L389.2,160.0L386.9,163.2L387.6,164.0L387.1,164.9L385.3,164.9L384.4,167.1L384.8,170.2L386.1,171.4L385.7,174.2L384.3,175.8Z" fill="#8c6bb1"/>
<path d="M411.0,153.6L411.1,155.2L414.1,156.6L412.9,158.3L415.6,160.9L414.9,162.9L416.9,164.6L416.5,166.1L419.5,167.7L419.1,168.9L417.8,170.3L414.5,173.3L411.3,173.5L408.2,174.3L405.3,174.8L404.0,173.6L402.1,172.8L402.1,170.4L400.9,168.3L401.5,166.9L402.9,165.5L406.5,163.0L407.5,162.5L407.1,161.5L404.5,160.4L403.8,159.6L403.0,156.1L400.1,154.6L397.7,153.5L398.6,152.9L400.6,154.1L402.8,154.0L404.7,154.5L406.1,153.6L406.6,151.9L409.0,151.2L411.3,152.1Z" fill="#8c96c6"/>
<path d="M408.8,179.8L408.8,178.4L408.1,178.7L406.8,177.8L406.4,176.4L408.6,175.7L410.9,175.4L413.0,175.8L414.9,175.7L415.2,176.2L414.2,177.6L415.2,179.8L414.5,180.6L413.0,180.6L411.2,179.7L410.3,179.4Z" fill="#8c6bb1"/>
<path d="M403.3,184.1L403.1,182.3L403.8,180.7L405.4,179.9L407.2,181.7L408.7,181.6L408.8,179.8L410.3,179.4L411.2,179.7L413.0,180.6L414.5,180.6L415.5,181.1L415.9,182.3L416.8,183.8L414.9,184.7L413.8,185.1L411.8,183.9L410.8,183.8L410.4,183.3L408.6,183.5L405.4,183.3Z" fill="#88419d"/>
<path d="M403.3,184.1L405.4,183.3L408.6,183.5L410.4,183.3L410.8,183.8L411.8,183.9L413.8,185.1L414.2,186.2L412.8,187.0L412.6,188.4L410.6,189.3L408.7,189.3L408.1,188.6L407.1,188.3L406.9,187.7L407.0,187.0L406.1,186.6L404.0,186.2Z" fill="#88419d"/>
<path d="M390.6,189.7L391.8,189.0L394.7,187.8L397.1,187.0L399.0,187.4L399.3,188.0L401.1,188.0L403.5,188.3L407.1,188.3L408.1,188.6L408.7,189.3L409.0,190.4L409.6,191.4L409.8,192.4L408.7,192.9L409.5,194.0L409.6,195.1L410.9,197.3L410.8,198.0L409.9,198.3L408.3,200.4L409.0,201.6L408.5,201.4L406.5,200.4L405.1,200.8L404.1,200.5L403.0,201.1L401.9,200.2L401.1,200.5L400.9,200.4L399.9,199.1L398.4,199.0L398.1,198.2L396.7,197.9L396.5,198.6L395.4,198.0L395.4,197.3L393.9,197.1L392.9,196.3L392.0,194.7L392.0,193.9L391.4,192.5L390.6,191.6L391.1,191.0Z" fill="#66065f"/>
<path d="M392.9,196.3L393.9,197.1L395.4,197.3L395.4,198.0L396.5,198.6L396.7,197.9L398.1,198.2L398.4,199.0L399.9,199.1L400.9,200.4L400.3,200.4L400.1,200.8L399.6,201.0L399.6,201.5L399.2,201.6L399.2,201.9L398.5,202.1L397.6,202.1L397.4,202.7L396.4,202.2L395.5,202.3L393.8,201.5L393.1,201.7L392.1,202.8L390.5,201.9L389.3,200.9L388.2,200.2L388.0,199.2L387.5,198.4L389.0,197.9L389.7,197.3L391.0,196.8L391.5,196.3L392.0,196.6Z" fill="#8c6bb1"/>
<path d="M400.9,200.4L401.1,200.5L401.9,200.2L403.0,201.1L404.1,200.5L405.1,200.8L406.5,200.4L408.5,201.4L408.0,202.1L407.8,203.1L407.4,203.4L405.1,202.6L404.5,202.8L404.1,203.3L403.1,203.7L402.9,203.5L402.0,203.9L401.2,204.0L401.1,204.5L399.4,204.8L398.6,204.5L397.5,203.9L397.2,203.0L397.4,202.7L397.6,202.1L398.5,202.1L399.2,201.9L399.2,201.6L399.6,201.5L399.6,201.0L400.1,200.8L400.3,200.4Z" fill="#8c6bb1"/>
<path d="M396.2,207.1L396.7,205.4L396.3,204.9L397.4,204.9L397.5,203.9L398.6,204.5L399.4,204.8L401.1,204.5L401.2,204.0L402.0,203.9L402.9,203.5L403.1,203.7L404.1,203.3L404.5,202.8L405.1,202.6L407.4,203.4L407.8,203.1L409.0,203.8L409.2,204.5L408.0,205.0L407.3,206.7L406.2,208.5L404.6,208.9L403.3,208.8L401.8,209.5L401.1,209.9L399.3,209.4L397.7,208.3L397.0,208.0L396.5,207.1Z" fill="#88419d"/>
<path d="M391.4,208.0L393.1,208.2L394.1,207.6L395.8,207.5L396.2,207.1L396.5,207.1L397.0,208.0L395.4,208.7L395.3,209.7L394.6,210.0L394.7,210.7L393.9,210.6L393.2,210.2L392.8,210.6L391.4,210.6L391.8,210.3L391.3,209.2Z" fill="#66065f"/>
<path d="M401.8,209.5L402.4,210.5L403.1,211.2L402.4,212.2L401.4,211.6L400.0,211.7L398.2,211.3L397.2,211.3L396.8,211.8L396.0,211.3L395.7,212.3L396.8,213.5L397.3,214.3L398.3,215.3L399.2,215.8L400.0,216.9L402.0,217.9L401.8,218.3L399.7,217.4L398.5,216.4L396.5,215.7L394.6,213.8L395.0,213.6L394.0,212.5L393.9,211.6L392.5,211.3L392.0,212.4L391.3,211.5L391.3,210.6L391.4,210.6L392.8,210.6L393.2,210.2L393.9,210.6L394.7,210.7L394.6,210.0L395.3,209.7L395.4,208.7L397.0,208.0L397.7,208.3L399.3,209.4L401.1,209.9Z" fill="#8c6bb1"/>
<path d="M402.4,212.2L403.2,212.2L402.7,213.3L403.8,214.3L403.6,215.5L403.2,215.6L402.8,215.9L402.2,216.5L402.0,217.9L400.0,216.9L399.2,215.8L398.3,215.3L397.3,214.3L396.8,213.5L395.7,212.3L396.0,211.3L396.8,211.8L397.2,211.3L398.2,211.3L400.0,211.7L401.4,211.6Z" fill="#8c6bb1"/>
<path d="M404.6,218.3L404.4,217.8L403.6,219.1L403.8,219.9L403.4,219.7L402.7,218.8L401.8,218.3L402.0,217.9L402.2,216.5L402.8,215.9L403.2,215.6L403.7,216.1L404.1,216.4L404.8,216.7L405.6,217.2L405.5,217.5L405.2,218.0Z" fill="#8c6bb1"/>
<path d="M406.1,210.8L407.4,211.4L407.7,212.4L409.0,213.2L409.6,212.6L410.1,212.9L409.7,213.4L410.1,213.8L409.7,214.4L410.0,215.3L411.1,216.4L410.4,217.2L410.1,218.1L410.4,218.4L410.1,218.7L409.1,218.8L408.4,218.9L408.3,218.7L408.5,218.4L408.7,217.8L408.4,217.8L408.0,217.3L407.6,217.2L407.3,216.8L406.9,216.7L406.5,216.3L406.2,216.4L406.0,217.3L405.5,217.5L405.6,217.2L404.8,216.7L404.1,216.4L403.7,216.1L403.2,215.6L403.6,215.5L403.8,214.3L402.7,213.3L403.2,212.2L402.4,212.2L403.1,211.2L402.4,210.5L401.8,209.5L403.3,208.8L404.6,208.9L405.8,210.0Z" fill="#8c6bb1"/>
<path d="M406.7,219.4L406.7,220.0L406.4,219.9L406.2,219.0L405.7,218.7L405.2,218.0L405.5,217.5L406.0,217.3L406.2,216.4L406.5,216.3L406.9,216.7L407.3,216.8L407.6,217.2L408.0,217.3L408.4,217.8L408.7,217.8L408.5,218.4L408.3,218.7L408.4,218.9L407.9,219.0Z" fill="#8c96c6"/>
<path d="M404.4,217.8L404.6,218.3L405.2,218.0L405.7,218.7L406.2,219.0L406.4,219.9L406.2,220.8L406.6,221.9L407.6,222.6L407.6,223.2L406.9,223.6L406.9,224.5L406.0,225.7L405.6,225.5L405.5,225.0L404.3,224.1L404.0,222.9L404.0,221.1L404.2,220.3L403.8,219.9L403.6,219.1Z" fill="#9ebcda"/>
<path d="M406.4,219.9L406.7,220.0L406.7,219.4L407.9,219.0L408.4,218.9L409.1,218.8L410.1,218.7L411.2,219.6L411.5,221.3L411.1,221.4L410.8,221.8L409.7,221.8L408.9,222.3L407.6,222.6L406.6,221.9L406.2,220.8Z" fill="#8c96c6"/>
<path d="M406.0,225.7L406.9,224.5L406.9,223.6L407.6,223.2L407.6,222.6L408.9,222.3L409.7,221.8L410.8,221.8L411.1,221.4L411.5,221.3L413.1,221.4L414.7,220.7L416.3,221.6L418.2,221.3L418.1,220.0L419.2,220.7L418.7,222.3L418.2,222.6L416.9,222.5L415.8,222.3L413.3,223.0L414.9,224.4L413.9,224.8L412.7,224.8L411.4,223.5L411.1,224.1L411.7,225.6L412.9,226.8L412.2,227.4L413.5,228.6L414.6,229.4L414.8,230.8L412.7,230.1L413.5,231.5L412.1,231.7L413.1,234.1L411.7,234.1L409.8,233.0L408.9,230.9L408.3,229.1L407.4,227.9L406.2,226.5ZM414.5,235.9L415.7,236.8L417.4,236.7L419.0,236.8L419.0,237.3L420.2,237.0L420.0,237.8L416.8,238.0L416.9,237.5L414.1,237.0Z" fill="#9ebcda"/>
<path d="M410.1,213.8L410.8,214.9L411.6,214.7L413.3,215.1L416.3,215.2L417.3,214.6L419.7,213.9L421.3,214.9L422.6,215.2L421.6,216.2L421.1,218.1L422.0,219.5L420.1,219.2L418.1,220.0L418.2,221.3L416.3,221.6L414.7,220.7L413.1,221.4L411.5,221.3L411.2,219.6L410.1,218.7L410.4,218.4L410.1,218.1L410.4,217.2L411.1,216.4L410.0,215.3L409.7,214.4Z" fill="#8c96c6"/>
<path d="M409.2,204.5L410.0,203.9L411.3,204.2L412.6,204.2L413.6,204.8L414.3,204.5L415.7,204.2L416.2,203.6L417.0,203.6L417.7,203.9L418.4,204.6L419.2,205.7L420.6,207.2L420.8,208.3L420.7,209.4L421.3,210.6L422.3,211.1L423.2,210.7L424.2,211.1L424.3,211.7L423.4,212.3L422.7,212.1L422.6,215.2L421.3,214.9L419.7,213.9L417.3,214.6L416.3,215.2L413.3,215.1L411.6,214.7L410.8,214.9L410.1,213.8L409.7,213.4L410.1,212.9L409.6,212.6L409.0,213.2L407.7,212.4L407.4,211.4L406.1,210.8L405.8,210.0L404.6,208.9L406.2,208.5L407.3,206.7L408.0,205.0Z" fill="#8c96c6"/>
<path d="M417.0,203.6L417.4,203.2L418.7,203.0L420.4,203.8L421.2,203.9L422.2,204.6L422.2,205.4L423.0,205.8L423.5,206.9L424.3,207.6L424.2,207.9L424.6,208.2L424.1,208.4L422.9,208.3L422.6,207.9L422.2,208.2L422.4,208.6L422.0,209.4L421.8,210.3L421.3,210.6L420.7,209.4L420.8,208.3L420.6,207.2L419.2,205.7L418.4,204.6L417.7,203.9Z" fill="#88419d"/>
<path d="M425.7,193.8L426.5,193.9L426.9,193.4L427.5,193.5L429.5,193.2L431.0,194.7L430.6,195.2L431.0,195.9L432.6,196.1L433.5,197.2L433.6,197.6L436.3,198.5L437.7,198.1L439.2,199.3L440.4,199.3L443.5,200.1L443.7,200.9L443.1,202.2L443.9,203.6L443.8,204.4L441.8,204.6L440.9,205.3L441.1,206.5L439.5,206.7L438.3,207.5L436.4,207.6L434.8,208.6L435.2,210.2L436.3,210.8L438.4,210.6L438.1,211.6L435.9,212.0L433.4,213.5L432.1,213.0L432.4,211.8L430.0,211.0L430.3,210.5L432.1,209.7L431.5,209.1L428.2,208.4L427.9,207.5L426.0,207.8L425.5,209.2L424.2,211.1L423.2,210.7L422.3,211.1L421.3,210.6L421.8,210.3L422.0,209.4L422.4,208.6L422.2,208.2L422.6,207.9L422.9,208.3L424.1,208.4L424.6,208.2L424.2,207.9L424.3,207.6L423.5,206.9L423.0,205.8L422.2,205.4L422.2,204.6L421.2,203.9L420.4,203.8L418.7,203.0L417.4,203.2L417.0,203.6L416.2,203.6L415.7,204.2L414.3,204.5L413.6,204.8L412.6,204.2L411.3,204.2L410.0,203.9L409.2,204.5L409.0,203.8L407.8,203.1L408.0,202.1L408.5,201.4L409.0,201.6L408.3,200.4L409.9,198.3L410.8,198.0L410.9,197.3L409.6,195.1L410.6,195.0L411.6,194.4L413.1,194.3L415.1,194.5L417.4,195.1L419.0,195.2L419.8,195.5L420.4,195.1L421.1,195.7L422.8,195.5L423.7,195.8L423.6,194.5L424.1,194.0Z" fill="#88419d"/>
<path d="M408.7,189.3L410.6,189.3L412.6,188.4L412.8,187.0L414.2,186.2L413.8,185.1L414.9,184.7L416.8,183.8L418.9,184.4L419.3,185.0L420.3,184.7L422.3,185.3L422.7,186.4L422.4,187.1L423.9,188.7L424.8,189.2L424.8,189.6L426.2,190.0L426.9,190.7L426.2,191.3L424.7,191.2L424.3,191.4L424.9,192.2L425.7,193.8L424.1,194.0L423.6,194.5L423.7,195.8L422.8,195.5L421.1,195.7L420.4,195.1L419.8,195.5L419.0,195.2L417.4,195.1L415.1,194.5L413.1,194.3L411.6,194.4L410.6,195.0L409.6,195.1L409.5,194.0L408.7,192.9L409.8,192.4L409.6,191.4L409.0,190.4Z" fill="#810f7c"/>
<path d="M441.0,221.3L444.2,222.3L446.6,221.9L448.4,222.1L450.7,220.8L452.9,220.7L455.2,221.9L455.7,222.8L455.8,224.1L457.4,224.7L458.4,225.5L457.1,226.2L458.3,229.2L458.0,230.0L459.5,232.1L458.6,232.5L457.7,231.9L455.1,231.5L454.3,231.9L451.9,232.4L450.7,232.3L448.4,233.3L446.6,233.3L445.4,232.8L443.1,233.5L442.3,233.0L442.4,234.5L441.9,235.0L441.4,235.6L440.5,234.4L441.1,233.5L439.9,233.7L438.0,233.1L436.7,234.6L433.4,234.9L431.5,233.5L429.2,233.4L428.8,234.5L427.3,234.8L425.1,233.4L422.8,233.4L421.2,230.8L419.5,229.4L420.3,227.4L418.9,226.1L420.9,223.7L424.2,223.6L424.8,221.6L428.9,221.9L431.2,220.2L433.5,219.5L437.0,219.5ZM420.1,219.2L422.0,219.5L422.3,220.5L424.3,221.4L424.0,222.0L421.5,222.2L420.7,223.0L419.1,224.4L418.3,223.1L418.2,222.6L418.7,222.3L419.2,220.7L418.1,220.0Z" fill="#f7fcfd"/>
<path d="M433.2,237.5L434.6,236.7L436.2,236.8L438.1,236.0L436.7,237.1L437.0,237.8L434.9,238.9L433.8,238.5Z" fill="#9ebcda"/>
<path d="M358.4,237.3L357.5,237.3L355.2,236.7L353.1,236.9L351.9,235.8L350.3,235.8L349.5,237.4L348.0,240.1L346.4,241.1L344.1,242.3L342.7,244.1L342.4,245.5L341.5,247.7L341.9,251.0L340.0,253.2L338.9,253.9L337.1,255.6L335.0,255.9L333.8,257.0L343.8,256.9L343.8,253.8L347.5,251.9L349.7,251.5L351.5,250.8L352.4,249.5L355.0,248.5L355.1,246.5L356.3,246.3L357.3,245.3L360.2,244.9L360.6,243.9L360.1,243.3L359.3,240.6L359.2,239.0Z" fill="#f7fcfd"/>
<path d="M343.8,256.9L343.7,257.6L343.6,261.6L336.3,261.4L336.2,268.1L334.1,268.3L333.5,269.7L333.9,273.4L325.0,273.4L324.5,274.3L324.7,273.2L324.8,272.0L326.5,269.9L327.2,267.2L329.2,265.1L329.9,263.6L330.8,260.6L332.3,259.6L333.8,257.0Z" fill="url(#hatch)" stroke="#b8b8b8"/>
<path d="M324.5,274.3L325.0,273.4L333.9,273.4L333.5,269.7L334.1,268.3L336.2,268.1L336.3,261.4L343.6,261.6L343.7,257.6L343.7,257.6L352.1,263.9L348.6,264.0L349.6,275.2L350.6,286.5L351.0,286.8L350.5,288.6L341.3,288.7L341.0,289.3L340.1,289.1L338.8,289.6L337.2,288.9L336.5,288.9L336.1,290.5L335.3,290.9L333.8,289.2L332.5,287.2L331.0,286.6L329.9,285.8L328.6,285.8L327.5,286.4L326.4,286.1L325.6,287.0L325.4,285.6L326.1,284.3L326.4,281.8L326.2,279.2L326.0,278.0L326.2,276.7L325.7,275.4Z" fill="#f7fcfd"/>
<path d="M335.3,290.9L336.1,290.5L336.5,288.9L337.2,288.9L338.8,289.6L340.1,289.1L341.0,289.3L341.3,288.7L350.5,288.6L351.0,286.8L350.6,286.5L349.6,275.2L348.6,264.0L352.1,263.9L359.6,269.6L367.2,275.3L367.8,276.5L369.2,277.3L370.2,277.7L370.3,279.4L372.8,279.1L372.8,285.1L371.6,286.9L371.4,288.5L369.4,288.9L366.3,289.1L365.4,290.0L363.9,290.1L362.5,290.2L361.9,289.6L360.7,290.0L358.5,291.1L358.1,291.9L356.3,293.1L356.0,293.8L355.0,294.3L353.9,293.9L353.3,294.6L353.0,296.4L351.1,298.5L351.2,299.4L350.6,300.5L350.7,302.0L349.7,302.4L349.2,302.7L348.9,301.6L348.2,301.9L347.8,301.9L347.4,302.6L345.6,302.6L345.0,302.2L344.7,302.5L344.0,301.7L344.1,300.9L343.8,300.6L343.3,300.9L343.4,300.0L343.9,299.4L343.0,298.3L342.7,297.5L342.2,297.0L341.7,296.9L341.2,297.3L340.4,297.6L339.8,298.2L338.8,298.0L338.2,297.3L337.8,297.2L337.2,297.6L336.9,297.6L336.7,296.6L336.8,295.8L336.7,294.8L335.8,294.1L335.4,292.6Z" fill="#f7fcfd"/>
<path d="M324.6,294.8L324.9,293.6L327.4,293.6L327.9,292.9L328.6,292.9L329.5,293.5L330.2,293.5L331.0,293.1L331.5,293.8L330.4,294.4L329.5,294.4L328.5,293.8L327.6,294.4L327.2,294.5L326.7,294.8Z" fill="#f7fcfd"/>
<path d="M325.6,287.0L325.0,288.3L323.9,290.2L322.8,290.7L324.0,291.6L324.9,293.6L327.4,293.6L327.9,292.9L328.6,292.9L329.5,293.5L330.2,293.5L331.0,293.1L331.5,293.8L330.4,294.4L329.5,294.4L328.5,293.8L327.6,294.4L327.2,294.5L326.7,294.8L324.6,294.8L324.9,296.8L326.1,296.3L326.9,296.4L327.5,296.1L331.7,296.2L332.8,296.3L334.5,296.9L335.0,296.9L335.2,296.6L336.4,296.8L336.7,296.6L336.8,295.8L336.7,294.8L335.8,294.1L335.4,292.6L335.3,290.9L333.8,289.2L332.5,287.2L331.0,286.6L329.9,285.8L328.6,285.8L327.5,286.4L326.4,286.1Z" fill="#f7fcfd"/>
<path d="M324.9,296.8L326.1,296.3L326.9,296.4L327.5,296.1L331.7,296.2L331.7,297.1L331.4,297.4L331.6,298.3L331.2,298.6L330.7,298.6L330.1,299.1L329.4,299.0L328.4,300.3L327.2,299.2L326.2,299.0L325.7,298.3L325.7,297.9L325.1,297.3Z" fill="#f7fcfd"/>
<path d="M331.7,296.2L331.7,297.1L331.4,297.4L331.6,298.3L331.2,298.6L330.7,298.6L330.1,299.1L329.4,299.0L328.4,300.3L329.1,300.7L329.4,301.3L329.6,302.5L330.2,302.9L330.8,303.3L331.7,304.3L332.7,305.9L333.9,304.7L334.2,304.0L334.6,303.4L335.2,303.4L335.7,302.9L337.6,302.9L338.2,303.8L338.7,304.9L338.6,305.7L339.0,306.3L338.9,307.3L339.6,307.2L340.7,306.8L341.6,308.4L341.5,309.4L341.9,310.0L342.6,310.0L343.1,309.0L343.7,309.0L344.1,309.0L344.2,307.9L344.0,307.4L344.3,307.0L345.1,306.7L344.5,304.6L344.0,303.5L344.2,302.7L344.7,302.5L344.0,301.7L344.1,300.9L343.8,300.6L343.3,300.9L343.4,300.0L343.9,299.4L343.0,298.3L342.7,297.5L342.2,297.0L341.7,296.9L341.2,297.3L340.4,297.6L339.8,298.2L338.8,298.0L338.2,297.3L337.8,297.2L337.2,297.6L336.9,297.6L336.7,296.6L336.4,296.8L335.2,296.6L335.0,296.9L334.5,296.9L332.8,296.3Z" fill="#f7fcfd"/>
<path d="M332.7,305.9L333.9,304.7L334.2,304.0L334.6,303.4L335.2,303.4L335.7,302.9L337.6,302.9L338.2,303.8L338.7,304.9L338.6,305.7L339.0,306.3L338.9,307.3L339.6,307.2L338.5,308.4L337.5,309.8L337.3,310.5L336.8,311.4L336.2,311.2L334.5,310.2L333.3,308.7Z" fill="#f7fcfd"/>
<path d="M336.8,311.4L337.3,310.5L337.5,309.8L338.5,308.4L339.6,307.2L340.7,306.8L341.6,308.4L341.5,309.4L341.9,310.0L342.6,310.0L343.1,309.0L343.7,309.0L343.6,309.8L343.8,311.1L343.3,312.2L344.0,312.9L344.7,313.1L345.7,314.2L345.7,315.2L345.5,315.6L345.3,317.7L344.7,317.7L342.4,316.5L340.3,314.5L338.3,313.1Z" fill="#f7fcfd"/>
<path d="M345.3,317.7L345.5,315.6L345.7,315.2L345.7,314.2L344.7,313.1L344.0,312.9L343.3,312.2L343.8,311.1L343.6,309.8L343.7,309.0L344.1,309.0L344.2,307.9L344.0,307.4L344.3,307.0L345.1,306.7L344.5,304.6L344.0,303.5L344.2,302.7L344.7,302.5L345.0,302.2L345.6,302.6L347.4,302.6L347.8,301.9L348.2,301.9L348.9,301.6L349.2,302.7L349.7,302.4L350.7,302.0L351.7,302.6L352.1,303.5L353.2,304.0L354.0,303.4L355.0,303.3L356.6,303.9L357.2,307.6L356.2,309.8L355.6,312.8L356.6,315.0L356.5,316.1L355.5,316.1L353.9,315.6L352.4,315.6L349.7,316.1L348.1,316.8L345.8,317.8Z" fill="#f7fcfd"/>
<path d="M356.5,316.1L356.6,315.0L355.6,312.8L356.2,309.8L357.2,307.6L356.6,303.9L356.3,302.0L356.4,300.5L360.3,300.4L361.4,300.5L362.1,300.1L363.1,300.3L363.0,301.1L363.9,302.5L363.9,304.4L364.2,306.4L364.7,307.4L364.2,309.8L364.4,311.1L365.0,312.7L365.5,313.6L361.9,315.2L360.7,316.1L358.6,316.8Z" fill="#f7fcfd"/>
<path d="M365.5,313.6L365.0,312.7L364.4,311.1L364.2,309.8L364.7,307.4L364.2,306.4L363.9,304.4L363.9,302.5L363.0,301.1L363.1,300.3L365.2,300.4L364.9,301.8L365.6,302.5L366.4,303.4L366.5,304.7L366.9,305.3L366.8,311.3L367.4,313.1Z" fill="#f7fcfd"/>
<path d="M367.4,313.1L366.8,311.3L366.9,305.3L366.5,304.7L366.4,303.4L365.6,302.5L364.9,301.8L365.2,300.4L365.9,300.1L366.4,299.0L367.5,298.7L368.0,297.9L368.8,297.2L369.6,297.2L371.4,298.7L371.3,299.5L371.8,301.1L371.4,302.1L371.6,302.8L370.5,304.5L369.8,305.2L369.3,306.9L369.4,308.6L369.3,312.8Z" fill="#f7fcfd"/>
<path d="M350.7,302.0L350.6,300.5L351.2,299.4L351.1,298.5L353.0,296.4L353.3,294.6L353.9,293.9L355.0,294.3L356.0,293.8L356.3,293.1L358.1,291.9L358.5,291.1L360.7,290.0L361.9,289.6L362.5,290.2L363.9,290.1L363.8,291.4L364.1,292.6L365.4,294.3L365.4,295.6L368.1,296.1L368.0,297.9L367.5,298.7L366.4,299.0L365.9,300.1L365.2,300.4L362.1,300.1L361.4,300.5L360.3,300.4L356.4,300.5L356.3,302.0L356.6,303.9L355.0,303.3L354.0,303.4L353.2,304.0L352.1,303.5L351.7,302.6Z" fill="#f7fcfd"/>
<path d="M363.9,290.1L365.4,290.0L366.3,289.1L369.4,288.9L371.4,288.5L371.6,286.9L372.8,285.1L372.8,279.1L376.0,277.9L382.5,272.8L390.1,267.8L393.7,269.0L395.0,270.4L396.6,269.4L397.2,273.5L398.1,274.2L398.1,275.0L399.1,275.9L398.6,277.0L397.9,282.3L397.8,285.7L395.0,288.2L394.0,291.6L395.0,292.6L395.0,294.3L396.5,294.3L396.3,295.5L395.6,296.5L395.2,296.6L393.6,293.7L393.0,293.6L391.2,295.1L389.5,294.3L388.2,294.2L387.6,294.5L386.2,294.4L384.9,295.6L383.7,295.6L380.9,294.3L379.9,294.9L378.7,294.9L377.9,293.9L375.5,292.9L373.1,293.2L372.5,293.8L372.2,295.3L371.5,296.3L371.4,298.7L369.6,297.2L368.8,297.2L368.0,297.9L368.1,296.1L365.4,295.6L365.4,294.3L364.1,292.6L363.8,291.4Z" fill="#f7fcfd"/>
<path d="M369.3,312.8L369.4,308.6L369.3,306.9L369.8,305.2L370.5,304.5L371.6,302.8L371.4,302.1L371.8,301.1L371.3,299.5L371.4,298.7L371.5,296.3L372.2,295.3L372.5,293.8L373.1,293.2L375.5,292.9L377.9,293.9L378.7,294.9L379.9,294.9L380.9,294.3L383.7,295.6L384.9,295.6L386.2,294.4L387.6,294.5L388.2,294.2L389.5,294.3L391.2,295.1L393.0,293.6L393.6,293.7L395.2,296.6L395.6,296.5L396.5,297.5L396.2,298.0L396.1,298.9L394.2,300.9L393.6,302.6L393.3,303.9L392.9,304.5L392.4,306.3L391.2,307.4L390.8,308.7L390.3,309.8L390.1,310.9L388.5,311.8L387.2,310.7L386.4,310.7L385.0,312.3L384.3,312.3L383.3,314.8L382.7,316.7L380.3,317.6L379.4,317.5L378.5,318.0L376.7,318.0L375.4,316.3L374.7,314.5L373.1,312.7L371.3,312.8Z" fill="#f7fcfd"/>
<path d="M382.7,316.7L383.3,314.8L384.3,312.3L385.0,312.3L386.4,310.7L387.2,310.7L388.5,311.8L390.1,310.9L390.3,309.8L390.8,308.7L391.2,307.4L392.4,306.3L392.9,304.5L393.3,303.9L393.6,302.6L394.2,300.9L396.1,298.9L396.2,298.0L396.5,297.5L395.6,296.5L396.3,295.5L397.2,297.2L397.4,298.9L397.3,300.7L398.6,303.1L397.3,303.0L396.7,303.2L395.6,302.9L395.1,304.2L396.5,305.7L397.5,306.1L397.8,307.2L398.6,309.0L398.2,309.7L397.1,312.4L396.6,312.8L396.4,314.9L396.6,316.0L396.4,316.8L397.5,318.1L397.7,319.1L398.6,320.4L399.6,321.2L399.8,322.4L400.0,323.2L399.8,324.6L398.0,324.0L396.1,323.3L393.2,323.2L392.9,323.0L391.6,323.4L390.2,323.0L389.1,323.2L385.3,323.1L385.7,321.1L384.8,319.4L383.7,318.9L383.2,317.7L382.7,317.4Z" fill="#f7fcfd"/>
<path d="M396.3,295.5L396.5,294.3L395.0,294.3L395.0,292.6L394.0,291.6L395.0,288.2L397.8,285.7L397.9,282.3L398.6,277.0L399.1,275.9L398.1,275.0L398.1,274.2L397.2,273.5L396.6,269.4L398.8,268.0L407.9,273.0L417.1,278.0L417.6,288.4L415.6,288.2L414.6,290.1L414.0,291.7L414.5,292.3L413.8,293.1L414.1,294.2L413.5,295.3L413.3,296.2L414.1,296.1L414.6,297.1L414.7,298.6L415.5,299.4L415.5,300.0L414.1,300.5L412.9,301.5L411.3,304.4L409.2,305.6L406.9,305.4L406.3,305.7L406.5,306.6L405.4,307.5L404.4,308.5L401.5,309.5L400.9,308.9L400.5,308.9L400.1,309.5L398.2,309.7L398.6,309.0L397.8,307.2L397.5,306.1L396.5,305.7L395.1,304.2L395.6,302.9L396.7,303.2L397.3,303.0L398.6,303.1L397.3,300.7L397.4,298.9L397.2,297.2L396.3,295.5Z" fill="#f7fcfd"/>
<path d="M343.8,256.9L343.8,253.8L347.5,251.9L349.7,251.5L351.5,250.8L352.4,249.5L355.0,248.5L355.1,246.5L356.3,246.3L357.3,245.3L360.2,244.9L360.6,243.9L360.1,243.3L359.3,240.6L359.2,239.0L358.4,237.3L360.5,235.9L362.8,235.4L364.2,234.4L366.3,233.6L369.9,233.1L373.5,232.9L374.6,233.3L376.6,232.3L378.9,232.2L379.8,232.8L381.3,232.7L380.9,234.0L381.3,236.5L380.8,238.6L379.5,240.1L379.7,242.1L381.6,243.6L381.6,244.2L383.0,245.3L384.1,250.0L384.9,252.3L385.0,253.5L384.6,255.7L384.8,256.8L384.6,258.3L384.8,259.9L384.0,261.0L385.3,262.9L385.4,264.0L386.2,265.5L387.3,265.0L389.1,266.2L390.1,267.8L382.5,272.8L376.0,277.9L372.8,279.1L370.3,279.4L370.2,277.7L369.2,277.3L367.8,276.5L367.2,275.3L359.6,269.6L352.1,263.9L343.7,257.6Z" fill="#f7fcfd"/>
<path d="M381.3,232.7L383.6,231.6L385.1,231.9L385.1,233.3L386.9,232.3L387.0,232.8L386.0,234.1L386.0,235.3L386.8,235.9L386.6,238.2L385.2,239.5L385.7,240.9L386.8,241.0L387.4,242.2L388.3,242.6L388.2,244.6L387.1,245.4L386.5,246.2L385.0,247.2L385.3,248.3L385.1,249.4L384.1,250.0L383.0,245.3L381.6,244.2L381.6,243.6L379.7,242.1L379.5,240.1L380.8,238.6L381.3,236.5L380.9,234.0Z" fill="#f7fcfd"/>
<path d="M388.3,242.6L390.9,243.5L391.8,243.3L393.6,243.7L396.6,244.9L397.7,247.2L399.7,247.7L402.9,248.8L405.3,250.1L406.3,249.4L407.3,248.2L406.7,246.2L407.3,245.0L408.8,243.7L410.3,243.4L413.3,243.9L414.2,245.1L415.0,245.1L415.7,245.5L417.9,245.8L418.5,246.7L417.8,248.0L418.2,249.1L417.8,250.7L418.6,252.8L419.1,262.1L419.5,271.7L419.7,276.9L417.1,276.9L417.1,278.0L407.9,273.0L398.8,268.0L396.6,269.4L395.0,270.4L393.7,269.0L390.1,267.8L389.1,266.2L387.3,265.0L386.2,265.5L385.4,264.0L385.3,262.9L384.0,261.0L384.8,259.9L384.6,258.3L384.8,256.8L384.6,255.7L385.0,253.5L384.9,252.3L384.1,250.0L385.1,249.4L385.3,248.3L385.0,247.2L386.5,246.2L387.1,245.4L388.2,244.6Z" fill="#f7fcfd"/>
<path d="M418.5,246.7L421.4,246.7L423.6,247.4L425.9,248.1L426.9,248.5L428.5,247.7L429.4,247.0L431.3,246.7L432.9,247.1L433.6,248.4L434.1,247.5L435.9,248.1L437.6,248.3L438.6,247.6L440.5,252.1L440.0,253.2L439.7,255.1L439.2,256.5L438.7,256.9L437.9,256.1L436.8,254.9L434.9,251.2L434.7,251.4L435.8,254.2L437.4,256.8L439.4,260.9L440.3,262.3L441.2,263.8L443.3,266.6L442.9,267.1L443.1,268.8L445.9,271.2L446.3,271.7L419.5,271.7L419.1,262.1L418.6,252.8L417.8,250.7L418.2,249.1L417.8,248.0Z" fill="#f7fcfd"/>
<path d="M446.3,271.7L447.2,274.2L446.7,274.7L447.2,277.4L448.2,280.5L449.1,281.2L450.4,282.1L449.3,283.6L447.7,284.1L447.0,284.8L446.8,286.6L446.0,290.4L446.3,291.5L446.0,293.7L445.2,296.3L443.9,297.6L442.9,299.6L442.7,300.6L441.7,301.4L441.1,304.1L440.7,304.4L440.8,303.1L440.5,302.1L439.3,301.1L438.9,299.2L439.2,297.3L438.1,297.1L438.0,297.7L436.6,297.9L437.1,298.6L437.4,300.2L436.2,301.6L435.1,303.5L433.9,303.8L431.9,302.2L431.1,302.8L430.9,303.5L429.7,304.0L429.6,304.6L427.3,304.6L427.0,304.0L425.3,303.9L424.5,304.4L423.9,304.2L422.7,302.6L422.3,301.9L420.6,302.3L420.0,303.5L419.5,305.8L418.7,306.3L418.0,306.6L417.8,306.5L417.0,305.7L416.8,304.9L417.2,303.8L417.1,302.8L415.8,301.1L415.5,300.0L415.5,299.4L414.7,298.6L414.6,297.1L414.1,296.1L413.3,296.2L413.5,295.3L414.1,294.2L413.8,293.1L414.5,292.3L414.0,291.7L414.6,290.1L415.6,288.2L417.6,288.4L417.1,278.0L417.1,276.9L419.7,276.9L419.5,271.7Z" fill="#f7fcfd"/>
<path d="M441.1,304.1L441.1,306.4L440.8,307.2L439.6,307.3L438.8,308.8L440.3,309.0L441.5,310.2L441.9,311.3L442.9,311.9L444.4,314.7L442.8,316.4L441.4,318.0L440.0,319.2L438.4,319.2L436.5,319.8L435.1,319.2L434.1,319.9L432.1,318.2L431.5,317.1L430.3,317.6L429.2,317.5L428.6,317.9L427.5,317.6L426.1,315.4L425.7,314.6L424.0,313.6L423.4,312.0L422.4,310.9L420.9,309.5L420.8,308.7L419.6,307.6L418.0,306.6L418.7,306.3L419.5,305.8L420.0,303.5L420.6,302.3L422.3,301.9L422.7,302.6L423.9,304.2L424.5,304.4L425.3,303.9L427.0,304.0L427.3,304.6L429.6,304.6L429.7,304.0L430.9,303.5L431.1,302.8L431.9,302.2L433.9,303.8L435.1,303.5L436.2,301.6L437.4,300.2L437.1,298.6L436.6,297.9L438.0,297.7L438.1,297.1L439.2,297.3L438.9,299.2L439.3,301.1L440.5,302.1L440.8,303.1L440.7,304.4Z" fill="#e0ecf4"/>
<path d="M450.4,282.1L451.9,285.1L452.6,287.5L453.9,288.8L457.2,291.3L458.5,292.8L459.8,294.3L460.6,295.2L461.7,296.0L461.0,296.6L460.1,296.4L459.2,295.5L458.2,294.0L457.2,293.2L456.6,292.2L454.5,291.2L452.9,291.2L452.4,290.6L451.1,291.2L449.6,290.1L449.0,292.0L446.3,291.5L446.0,290.4L446.8,286.6L447.0,284.8L447.7,284.1L449.3,283.6Z" fill="#bfd3e6"/>
<path d="M461.7,296.0L462.3,296.8L462.3,297.9L461.0,298.5L462.0,299.2L461.2,300.6L460.7,300.1L460.1,300.3L458.8,300.3L458.8,299.5L458.6,298.7L459.3,297.5L460.1,296.4L461.0,296.6Z" fill="#9ebcda"/>
<path d="M446.3,291.5L449.0,292.0L449.6,290.1L451.1,291.2L452.4,290.6L452.9,291.2L454.5,291.2L456.6,292.2L457.2,293.2L458.2,294.0L459.2,295.5L460.1,296.4L459.3,297.5L458.6,298.7L458.8,299.5L458.8,300.3L460.1,300.3L460.7,300.1L461.2,300.6L460.7,301.5L461.6,302.9L462.5,304.2L463.4,305.1L471.0,308.2L472.9,308.2L466.6,316.1L463.6,316.2L461.6,318.0L460.1,318.1L459.5,318.9L457.9,318.9L457.0,318.0L454.9,319.1L454.2,320.2L452.7,320.0L452.2,319.7L451.7,319.7L450.9,319.7L448.0,317.5L446.4,317.5L445.6,316.6L445.6,315.2L444.4,314.7L442.9,311.9L441.9,311.3L441.5,310.2L440.3,309.0L438.8,308.8L439.6,307.3L440.8,307.2L441.1,306.4L441.1,304.1L441.7,301.4L442.7,300.6L442.9,299.6L443.9,297.6L445.2,296.3L446.0,293.7Z" fill="#9ebcda"/>
<path d="M462.0,299.2L462.7,299.7L463.2,300.8L464.3,301.8L465.4,301.9L467.6,301.2L470.1,300.9L472.1,300.1L473.2,299.9L474.0,299.4L475.3,299.3L476.0,299.3L477.1,298.9L478.3,298.6L479.3,297.7L480.2,297.7L480.3,298.4L480.1,299.9L480.2,301.3L479.7,302.3L479.2,305.1L478.2,308.0L476.8,311.4L475.0,315.2L473.0,318.1L470.4,321.6L468.1,323.7L464.7,326.4L462.6,328.3L460.0,331.5L459.5,332.9L459.0,333.5L457.6,331.3L457.5,321.8L459.5,318.9L460.1,318.1L461.6,318.0L463.6,316.2L466.6,316.1L472.9,308.2L471.0,308.2L463.4,305.1L462.5,304.2L461.6,302.9L460.7,301.5L461.2,300.6Z" fill="#e0ecf4"/>
<path d="M459.0,333.5L457.3,334.5L456.8,335.6L455.9,335.8L455.5,337.7L454.8,338.7L454.3,340.5L453.4,341.3L450.1,338.7L450.0,337.2L441.6,331.9L441.2,331.6L441.2,328.8L441.9,327.7L443.0,326.0L443.9,324.1L442.8,321.1L442.5,319.8L441.4,318.0L442.8,316.4L444.4,314.7L445.6,315.2L445.6,316.6L446.4,317.5L448.0,317.5L450.9,319.7L451.7,319.7L452.2,319.7L452.7,320.0L454.2,320.2L454.9,319.1L457.0,318.0L457.9,318.9L457.5,321.8L457.6,331.3Z" fill="#e0ecf4"/>
<path d="M441.2,331.6L436.6,331.8L434.0,331.7L433.2,332.0L431.8,332.9L431.3,332.6L431.3,330.6L431.8,329.6L432.0,327.5L432.5,326.3L433.3,325.0L434.2,324.3L434.9,323.4L434.0,323.0L434.1,319.9L435.1,319.2L436.5,319.8L438.4,319.2L440.0,319.2L441.4,318.0L442.5,319.8L442.8,321.1L443.9,324.1L443.0,326.0L441.9,327.7L441.2,328.8Z" fill="#e0ecf4"/>
<path d="M433.2,332.0L434.1,333.5L434.0,335.1L433.3,335.4L432.1,335.2L431.4,336.7L430.0,336.5L430.2,335.1L430.5,334.9L430.6,333.3L431.3,332.6L431.8,332.9Z" fill="#8c96c6"/>
<path d="M433.3,335.4L433.4,336.4L433.9,337.0L433.9,337.9L433.4,338.4L432.5,339.8L431.6,340.7L430.7,340.8L430.6,337.7L430.0,336.5L431.4,336.7L432.1,335.2Z" fill="#e0ecf4"/>
<path d="M441.2,331.6L441.6,331.9L450.0,337.2L450.1,338.7L453.4,341.3L452.3,344.5L452.4,346.0L453.8,347.0L453.9,347.6L453.2,349.2L453.3,350.0L453.1,351.3L453.9,352.9L454.8,355.5L455.6,356.0L453.7,357.5L451.2,358.6L449.8,358.5L449.0,359.3L447.4,359.3L446.8,359.7L444.0,359.0L442.3,359.2L441.8,355.6L441.0,354.4L440.6,353.7L438.3,353.2L437.0,352.4L435.6,352.0L434.7,351.5L433.7,350.9L432.6,347.6L431.2,346.1L430.8,344.6L431.1,343.2L430.7,340.8L431.6,340.7L432.5,339.8L433.4,338.4L433.9,337.9L433.9,337.0L433.4,336.4L433.3,335.4L434.0,335.1L434.1,333.5L433.2,332.0L434.0,331.7L436.6,331.8Z" fill="#bfd3e6"/>
<path d="M398.2,309.7L400.1,309.5L400.5,308.9L400.9,308.9L401.5,309.5L404.4,308.5L405.4,307.5L406.5,306.6L406.3,305.7L406.9,305.4L409.2,305.6L411.3,304.4L412.9,301.5L414.1,300.5L415.5,300.0L415.8,301.1L417.1,302.8L417.2,303.8L416.8,304.9L417.0,305.7L417.8,306.5L418.0,306.6L419.6,307.6L420.8,308.7L420.9,309.5L422.4,310.9L423.4,312.0L424.0,313.6L425.7,314.6L426.1,315.4L425.4,315.7L423.9,315.7L422.1,315.4L421.3,315.6L421.0,316.2L420.2,316.3L419.3,315.8L416.8,317.1L415.7,316.8L415.4,317.0L414.7,318.6L413.0,318.1L411.3,317.8L409.8,316.9L407.9,316.0L406.7,316.8L405.8,318.1L405.6,320.0L404.1,319.8L402.6,319.4L401.2,320.7L400.0,323.2L399.8,322.4L399.6,321.2L398.6,320.4L397.7,319.1L397.5,318.1L396.4,316.8L396.6,316.0L396.4,314.9L396.6,312.8L397.1,312.4Z" fill="#e0ecf4"/>
<path d="M385.3,323.1L389.1,323.2L389.1,326.3L385.8,326.3L385.0,326.5L384.6,326.1Z" fill="#e0ecf4"/>
<path d="M389.1,323.2L390.2,323.0L391.6,323.4L392.9,323.0L393.2,323.2L393.1,324.3L393.7,325.7L395.4,325.4L396.0,326.0L395.0,329.0L396.1,330.5L396.4,332.6L396.1,334.3L395.3,335.5L393.3,335.4L392.1,334.2L391.9,335.3L390.3,335.7L389.6,336.3L390.4,338.1L388.6,339.5L386.3,336.9L384.8,334.7L383.4,332.0L383.5,331.1L384.0,330.3L384.5,328.4L385.0,326.5L385.8,326.3L389.1,326.3Z" fill="#e0ecf4"/>
<path d="M388.6,339.5L390.4,338.1L389.6,336.3L390.3,335.7L391.9,335.3L392.1,334.2L393.3,335.4L395.3,335.5L396.1,334.3L396.4,332.6L396.1,330.5L395.0,329.0L396.0,326.0L395.4,325.4L393.7,325.7L393.1,324.3L393.2,323.2L396.1,323.3L398.0,324.0L399.8,324.6L400.0,323.2L401.2,320.7L402.6,319.4L404.1,319.8L405.6,320.0L405.5,321.5L404.8,322.9L404.4,324.6L404.1,326.9L404.2,328.3L403.8,329.3L403.8,330.2L403.5,331.0L402.0,332.3L400.9,333.6L399.9,336.2L400.0,338.3L399.4,339.2L398.0,340.4L396.7,342.1L395.8,341.6L395.7,340.9L394.4,340.8L393.6,341.8L393.0,341.6L392.2,340.7L391.5,341.1L390.5,342.3Z" fill="#e0ecf4"/>
<path d="M391.4,345.0L391.1,344.2L391.7,343.9L391.8,342.8L392.2,342.1L393.0,341.6L393.6,341.8L394.4,340.8L395.7,340.9L395.8,341.6L396.7,342.1L398.0,340.4L399.4,339.2L400.0,338.3L399.9,336.2L400.9,333.6L402.0,332.3L403.5,331.0L403.8,330.2L403.8,329.3L404.2,328.3L404.1,326.9L404.4,324.6L404.8,322.9L405.5,321.5L405.6,320.0L405.8,318.1L406.7,316.8L407.9,316.0L409.8,316.9L411.3,317.8L413.0,318.1L414.7,318.6L415.4,317.0L415.7,316.8L416.8,317.1L419.3,315.8L420.2,316.3L421.0,316.2L421.3,315.6L422.1,315.4L423.9,315.7L425.4,315.7L426.1,315.4L427.5,317.6L428.6,317.9L429.2,317.5L430.3,317.6L431.5,317.1L432.1,318.2L434.1,319.9L434.0,323.0L434.9,323.4L434.2,324.3L433.3,325.0L432.5,326.3L432.0,327.5L431.8,329.6L431.3,330.6L431.3,332.6L430.6,333.3L430.5,334.9L430.2,335.1L430.0,336.5L430.6,337.7L430.7,340.8L431.1,343.2L430.8,344.6L431.2,346.1L432.6,347.6L433.7,350.9L432.8,350.6L429.7,351.0L429.1,351.4L428.4,353.0L428.9,354.2L428.5,357.3L428.1,359.9L428.7,360.3L430.3,361.4L430.9,360.9L431.0,363.7L429.3,363.7L428.4,362.2L427.6,361.1L425.8,360.8L425.3,359.4L423.9,360.2L422.1,359.8L421.4,358.7L419.9,358.4L418.8,358.5L418.7,357.7L417.9,357.6L416.9,357.5L415.5,357.9L414.5,357.8L413.9,358.0L414.1,354.9L413.3,353.9L413.2,352.4L413.5,350.8L413.1,349.8L413.1,348.1L410.3,348.2L410.5,347.2L409.3,347.2L409.2,347.7L407.8,347.8L407.2,349.3L406.8,350.0L405.5,349.6L404.8,350.0L403.3,350.2L402.4,348.8L401.9,347.9L401.2,346.4L400.7,344.4L393.9,344.4L393.1,344.7L392.4,344.7Z" fill="#e0ecf4"/>
<path d="M391.4,345.0L392.4,344.7L393.1,344.7L393.9,344.4L400.7,344.4L401.2,346.4L401.9,347.9L402.4,348.8L403.3,350.2L404.8,350.0L405.5,349.6L406.8,350.0L407.2,349.3L407.8,347.8L409.2,347.7L409.3,347.2L410.5,347.2L410.3,348.2L413.1,348.1L413.1,349.8L413.5,350.8L413.2,352.4L413.3,353.9L414.1,354.9L413.9,358.0L414.5,357.8L415.5,357.9L416.9,357.5L417.9,357.6L418.2,358.4L417.9,359.7L418.2,360.9L417.9,361.9L418.1,362.8L413.3,362.8L413.0,371.1L414.4,373.2L415.9,374.8L411.7,375.9L406.2,375.5L404.6,374.3L395.4,374.4L395.1,374.6L393.7,373.4L392.3,373.3L390.9,373.8L389.8,374.3L389.6,372.6L390.0,370.3L390.8,367.9L390.9,366.8L391.7,364.5L392.2,363.4L393.6,361.7L394.3,360.5L394.6,358.6L394.5,357.1L393.8,356.2L393.2,354.6L392.7,353.0L392.8,352.5L393.5,351.4L392.8,348.9L392.4,347.2L391.2,345.5ZM391.1,344.2L390.5,342.3L391.5,341.1L392.2,340.7L393.0,341.6L392.2,342.1L391.8,342.8L391.7,343.9Z" fill="#e0ecf4"/>
<path d="M415.9,374.8L414.4,373.2L413.0,371.1L413.3,362.8L418.1,362.8L417.9,361.9L418.2,360.9L417.9,359.7L418.2,358.4L417.9,357.6L418.7,357.7L418.8,358.5L419.9,358.4L421.4,358.7L422.1,359.8L423.9,360.2L425.3,359.4L425.8,360.8L427.6,361.1L428.4,362.2L429.3,363.7L431.0,363.7L430.9,360.9L430.3,361.4L428.7,360.3L428.1,359.9L428.5,357.3L428.9,354.2L428.4,353.0L429.1,351.4L429.7,351.0L432.8,350.6L433.7,350.9L434.7,351.5L435.6,352.0L437.0,352.4L438.3,353.2L439.4,354.4L439.9,356.6L439.5,357.3L439.0,359.4L439.4,361.6L438.6,362.5L437.8,364.9L439.0,365.6L432.0,367.7L432.1,369.6L430.4,369.9L429.1,371.0L428.8,371.9L427.9,372.1L425.9,374.2L424.5,375.9L423.8,376.0L423.1,375.7L420.5,375.4L420.1,375.2L420.1,375.0L419.2,374.4L417.8,374.3Z" fill="#bfd3e6"/>
<path d="M438.3,353.2L440.6,353.7L441.0,354.4L441.8,355.6L442.3,359.2L438.6,362.5L439.4,361.6L439.0,359.4L439.5,357.3L439.9,356.6L439.4,354.4L438.3,353.2L439.0,365.6L440.3,366.8L440.9,366.6L441.8,367.2L441.9,368.3L441.4,369.5L441.4,371.3L442.8,372.9L443.6,371.1L444.6,370.6L444.6,367.2L443.7,365.4L442.9,364.5L442.1,364.5L441.6,361.2Z" fill="#bfd3e6"/>
<path d="M455.6,356.0L455.9,357.2L455.8,359.8L455.9,362.1L455.9,366.2L456.2,367.4L455.4,369.3L454.5,371.1L452.9,372.7L450.8,373.7L448.2,375.0L445.4,377.8L444.6,378.3L442.9,380.1L441.9,380.7L441.6,382.6L442.6,384.6L442.9,386.1L442.9,386.9L443.3,386.8L443.1,389.3L442.7,390.5L443.2,391.0L442.8,392.1L441.8,393.0L439.9,393.9L437.1,395.3L436.0,396.3L436.2,397.4L436.7,397.5L436.4,398.9L434.7,398.9L434.6,397.7L434.4,396.5L434.2,395.6L434.8,392.7L434.3,390.9L433.5,387.2L436.0,384.2L436.7,382.3L437.0,382.1L437.3,380.6L437.0,379.8L437.2,377.8L437.7,376.0L437.9,372.7L436.7,371.9L435.7,371.7L435.2,371.0L434.2,370.5L432.3,370.5L432.1,369.6L432.0,367.7L439.0,365.6L440.3,366.8L440.9,366.6L441.8,367.2L441.9,368.3L441.4,369.5L441.4,371.3L442.8,372.9L443.6,371.1L444.6,370.6L444.6,367.2L443.7,365.4L442.9,364.5L442.1,364.5L441.6,361.2L442.3,359.2L444.0,359.0L446.8,359.7L447.4,359.3L449.0,359.3L449.8,358.5L451.2,358.6L453.7,357.5Z" fill="#e0ecf4"/>
<path d="M433.5,387.2L432.3,386.9L431.5,387.2L430.4,386.8L429.5,386.8L428.1,385.6L426.4,385.2L425.8,383.5L425.8,382.6L424.9,382.3L422.4,379.4L421.8,377.9L421.3,377.5L420.5,375.4L423.1,375.7L423.8,376.0L424.5,375.9L425.9,374.2L427.9,372.1L428.8,371.9L429.1,371.0L430.4,369.9L432.1,369.6L432.3,370.5L434.2,370.5L435.2,371.0L435.7,371.7L436.7,371.9L437.9,372.7L437.7,376.0L437.2,377.8L437.0,379.8L437.3,380.6L437.0,382.1L436.7,382.3L436.0,384.2Z" fill="#bfd3e6"/>
<path d="M420.5,375.4L421.3,377.5L421.8,377.9L422.4,379.4L424.9,382.3L425.8,382.6L425.8,383.5L426.4,385.2L428.1,385.6L429.5,386.8L426.2,388.7L424.1,390.6L423.3,392.4L422.6,393.4L421.3,393.6L420.9,394.8L420.6,395.6L419.2,396.2L417.3,396.1L416.3,395.4L415.4,395.1L414.2,395.7L413.6,396.9L412.6,397.7L411.4,398.9L409.8,399.1L409.3,398.2L409.6,396.6L408.4,394.1L407.8,393.7L408.0,386.1L410.2,386.0L410.6,376.7L412.3,376.7L415.8,375.7L416.7,376.8L418.1,375.8L418.8,375.8L420.1,375.2Z" fill="#9ebcda"/>
<path d="M389.8,374.3L390.9,373.8L392.3,373.3L393.7,373.4L395.1,374.6L395.4,374.4L404.6,374.3L406.2,375.5L411.7,375.9L415.9,374.8L417.8,374.3L419.2,374.4L420.1,375.0L420.1,375.2L420.5,375.4L420.1,375.2L418.8,375.8L418.1,375.8L416.7,376.8L415.8,375.7L412.3,376.7L410.6,376.7L410.2,386.0L408.0,386.1L407.8,393.7L407.3,403.4L405.3,404.7L404.1,404.9L402.7,404.4L401.7,404.2L401.4,403.1L400.5,402.4L399.4,403.7L397.9,401.7L397.0,399.8L396.6,397.3L396.1,395.4L395.5,391.3L395.5,388.2L395.3,386.8L394.4,385.7L393.3,383.6L392.2,380.4L391.7,378.8L389.9,376.3Z" fill="#9ebcda"/>
<path d="M399.4,403.7L400.5,402.4L401.4,403.1L401.7,404.2L402.7,404.4L404.1,404.9L405.3,404.7L407.3,403.4L407.8,393.7L408.4,394.1L409.6,396.6L409.3,398.2L409.8,399.1L411.4,398.9L412.6,397.7L413.6,396.9L414.2,395.7L415.4,395.1L416.3,395.4L417.3,396.1L419.2,396.2L420.6,395.6L420.9,394.8L421.3,393.6L422.6,393.4L423.3,392.4L424.1,390.6L426.2,388.7L429.5,386.8L430.4,386.8L431.5,387.2L432.3,386.9L433.5,387.2L434.3,390.9L434.8,392.7L434.2,395.6L434.4,396.5L434.6,397.7L434.4,396.5L433.3,396.1L432.6,396.3L432.4,397.0L431.7,398.0L431.7,398.9L432.9,400.3L434.2,400.0L434.7,398.9L436.4,398.9L435.7,400.8L435.3,403.0L434.6,404.1L433.0,405.5L432.6,405.8L431.5,407.2L430.8,408.5L429.4,410.4L426.7,413.1L425.0,414.6L423.2,415.8L420.8,416.8L419.7,417.0L419.4,417.7L418.1,417.3L417.0,417.8L414.6,417.3L413.3,417.6L412.4,417.5L410.1,418.5L408.2,418.9L406.8,419.9L405.8,420.0L404.9,419.0L404.2,419.0L403.3,417.8L403.2,418.2L402.9,417.5L403.0,416.0L402.4,414.2L403.2,413.7L403.2,411.7L401.9,409.3L400.9,407.1Z" fill="#9ebcda"/>
<path d="M427.4,404.7L428.2,405.5L427.4,406.7L426.9,407.6L425.7,408.0L425.2,408.8L424.4,409.1L422.9,407.1L424.2,405.4L425.4,404.4L426.5,403.9Z" fill="#9ebcda"/>
<path d="M434.7,398.9L434.2,400.0L432.9,400.3L431.7,398.9L431.7,398.0L432.4,397.0L432.6,396.3L433.3,396.1L434.4,396.5L434.6,397.7Z" fill="#9ebcda"/>
<path d="M476.5,361.6L477.1,362.8L477.6,364.5L477.8,367.6L478.3,368.8L478.0,370.1L477.5,370.9L476.8,369.3L476.4,370.1L476.7,372.0L476.4,373.2L475.7,373.8L475.4,375.9L474.3,379.0L472.9,382.6L471.2,387.5L470.0,391.2L468.8,394.2L466.9,394.8L464.8,395.9L463.6,395.3L461.9,394.3L461.4,392.9L461.4,390.6L460.8,388.6L460.7,386.7L461.2,384.8L462.3,384.3L462.4,383.5L463.6,381.5L463.9,379.8L463.4,378.6L463.1,376.9L463.1,374.5L464.0,373.1L464.4,371.4L465.5,371.3L466.8,370.8L467.7,370.3L468.7,370.3L470.1,368.8L472.1,367.2L472.8,365.9L472.6,364.8L473.5,365.1L474.9,363.3L475.0,361.7L475.8,360.5Z" fill="#e0ecf4"/>
<path d="M470.6,251.0L469.3,250.9L467.8,250.6L466.5,253.2L462.3,252.9L455.5,247.7L452.0,245.9L449.2,245.2L447.9,242.0L452.4,239.3L452.8,236.1L452.3,234.2L453.4,233.6L454.3,231.9L455.1,231.5L457.7,231.9L458.6,232.5L459.5,232.1L461.4,235.2L463.0,236.0L463.4,237.5L462.4,238.4L462.2,240.4L464.1,242.9L467.0,244.4L468.4,246.3L468.3,248.2L469.0,248.2L469.2,249.6Z" fill="#f7fcfd"/>
<path d="M441.4,235.6L441.9,235.0L442.4,234.5L442.3,233.0L443.1,233.5L445.4,232.8L446.6,233.3L448.4,233.3L450.7,232.3L451.9,232.4L454.3,231.9L453.4,233.6L452.3,234.2L452.8,236.1L452.4,239.3L447.9,242.0L444.0,244.8L441.4,243.7L441.6,243.3L441.5,242.2L441.9,240.8L442.9,239.8L442.5,238.8L441.5,238.7L441.0,236.7Z" fill="#f7fcfd"/>
<path d="M441.5,242.2L440.9,242.3L440.7,242.7L440.0,242.7L440.5,240.6L441.4,238.8L441.5,238.7L442.5,238.8L442.9,239.8L441.9,240.8Z" fill="#f7fcfd"/>
<path d="M441.4,243.7L441.1,244.6L440.3,244.2L440.0,245.9L440.6,246.2L440.1,246.6L440.1,247.3L441.1,246.9L441.2,247.9L440.5,252.1L438.6,247.6L439.2,246.8L439.0,246.6L439.5,245.4L439.7,243.4L440.0,242.8L440.0,242.7L440.7,242.7L440.9,242.3L441.5,242.2L441.6,243.3Z" fill="#e0ecf4"/>
<path d="M441.1,244.6L441.3,246.2L441.1,246.9L440.1,247.3L440.1,246.6L440.6,246.2L440.0,245.9L440.3,244.2Z" fill="#f7fcfd"/>
<path d="M441.1,244.6L441.4,243.7L444.0,244.8L447.9,242.0L449.2,245.2L448.8,245.6L444.6,246.9L447.1,249.5L446.4,249.9L446.1,250.8L444.5,251.1L444.0,252.1L443.1,252.9L440.6,252.5L440.5,252.1L441.2,247.9L441.1,246.9L441.3,246.2Z" fill="#f7fcfd"/>
<path d="M440.6,252.5L443.1,252.9L444.0,252.1L444.5,251.1L446.1,250.8L446.4,249.9L447.1,249.5L444.6,246.9L448.8,245.6L449.2,245.2L452.0,245.9L455.5,247.7L462.3,252.9L466.5,253.2L468.5,253.4L469.2,254.6L470.7,254.6L471.9,256.8L473.0,257.4L473.5,258.3L475.2,259.4L475.4,260.5L475.3,261.4L475.6,262.3L476.4,263.0L476.7,263.9L477.1,264.5L477.9,265.0L478.5,264.8L479.0,265.8L479.1,266.4L480.2,269.1L487.1,270.4L487.5,269.8L488.7,271.7L487.6,276.9L481.1,279.5L474.6,280.5L472.5,281.7L471.1,284.4L470.1,284.9L469.4,284.0L468.6,284.1L466.4,283.9L465.9,283.6L463.3,283.7L462.7,283.9L461.7,283.2L461.2,284.5L461.5,285.6L460.6,286.4L460.2,285.3L459.5,284.5L459.2,283.5L458.0,282.6L456.7,280.4L455.9,278.2L454.2,276.5L453.2,276.0L451.5,273.5L451.2,271.7L451.2,270.2L449.7,267.3L448.6,266.3L447.3,265.7L446.5,264.2L446.6,263.6L445.8,262.3L445.1,261.7L444.1,259.8L442.6,257.6L441.3,255.9L440.2,255.9L440.4,254.4L440.4,253.5Z" fill="#f7fcfd"/>
<path d="M481.1,279.5L474.6,280.5L472.5,281.7L471.1,284.4L470.1,284.9L469.4,284.0L468.6,284.1L466.4,283.9L465.9,283.6L463.3,283.7L462.7,283.9L461.7,283.2L461.2,284.5L461.5,285.6L460.6,286.4L460.7,287.6L460.5,288.1L462.0,293.2L462.0,294.6L462.6,296.1L464.2,296.2L466.1,296.0L467.5,294.4L470.0,294.1L472.7,292.5L474.4,292.6L476.3,290.7L479.9,289.5L482.1,288.4L482.1,287.5L484.0,285.6L483.1,283.8Z" fill="#f7fcfd"/>
<path d="M484.0,285.6L486.5,284.6L488.8,283.1L491.0,282.4L491.5,281.9L492.9,279.6L494.0,279.7L494.4,275.6L496.1,274.0L497.3,272.4L498.0,270.9L497.9,270.3L495.2,267.6L492.2,266.8L490.8,265.8L489.6,264.1L488.5,264.1L488.5,265.8L488.9,266.1L488.0,266.6L488.1,267.7L487.5,268.8L487.5,269.8L488.7,271.7L487.6,276.9L481.1,279.5L483.1,283.8ZM489.1,262.0L488.6,261.1L489.1,260.2L489.4,260.4L489.3,261.5Z" fill="#f7fcfd"/>
<path d="M479.0,265.8L479.4,265.7L479.5,266.4L481.3,266.0L483.1,266.1L484.5,266.1L485.8,264.4L487.3,262.7L488.6,261.1L489.1,262.0L489.6,264.1L488.5,264.1L488.5,265.8L488.9,266.1L488.0,266.6L488.1,267.7L487.5,268.8L487.5,269.8L487.1,270.4L480.2,269.1L479.1,266.4Z" fill="#e0ecf4"/>
<path d="M477.1,264.5L476.8,262.6L477.3,261.2L477.9,261.0L478.6,261.8L478.8,263.3L478.5,264.8L477.9,265.0Z" fill="#f7fcfd"/>
<path d="M469.3,250.9L469.9,252.0L469.8,252.6L470.7,254.6L469.2,254.6L468.5,253.4L466.5,253.2L467.8,250.6Z" fill="#f7fcfd"/>
<path d="M308.7,289.7L309.3,289.0L309.8,289.7L309.2,290.3ZM307.3,290.2L307.6,289.8L308.0,290.2L307.6,290.6ZM305.5,284.7L306.0,284.2L306.4,284.7L306.0,285.3ZM310.6,287.1L310.9,286.7L311.3,287.1L310.9,287.5ZM307.5,285.8L307.8,285.5L308.0,285.8L307.8,286.1Z" fill="#e0ecf4"/>
<path d="M461.9,359.6L462.5,359.1L462.9,359.6L462.4,360.2ZM464.4,360.9L464.8,360.6L465.1,360.9L464.8,361.3ZM466.1,362.5L466.5,362.1L466.8,362.5L466.4,362.9Z" fill="#e0ecf4"/>
<path d="M492.9,382.0L493.4,381.4L493.9,382.0L493.3,382.5Z" fill="#bfd3e6"/>
<path d="M488.1,384.2L488.6,383.6L489.0,384.2L488.5,384.7Z" fill="url(#hatch)" stroke="#b8b8b8"/>
<path d="M378.0,328.4L378.3,328.1L378.7,328.4L378.3,328.8Z" fill="#e0ecf4"/>
<path d="M490.6,341.2L490.9,340.9L491.2,341.2L490.9,341.5Z" fill="#bfd3e6"/>
<path d="M412.3,153.4L411.0,153.6L411.1,155.2L414.1,156.6L412.9,158.3L415.6,160.9L414.9,162.9L416.9,164.6L416.5,166.1L419.5,167.7L419.1,168.9L417.8,170.3L414.5,173.3L416.7,174.4L414.9,175.7L415.2,176.2L414.2,177.6L415.2,179.8L414.5,180.6L415.5,181.1L415.9,182.3L416.8,183.8L418.9,184.4L419.3,185.0L420.3,184.7L422.3,185.3L422.7,186.4L422.4,187.1L423.9,188.7L424.8,189.2L424.8,189.6L426.2,190.0L426.9,190.7L426.2,191.3L424.7,191.2L424.3,191.4L424.9,192.2L425.7,193.8L426.5,193.9L426.9,193.4L427.5,193.5L429.5,193.2L431.0,194.7L430.6,195.2L431.0,195.9L432.6,196.1L433.5,197.2L433.6,197.6L436.3,198.5L437.7,198.1L439.2,199.3L440.4,199.3L443.5,200.1L443.7,200.9L443.1,202.2L443.9,203.6L443.8,204.4L441.8,204.6L440.9,205.3L441.1,206.5L443.0,206.3L442.1,208.0L440.2,207.7L441.5,208.8L440.2,210.8L438.8,211.2L440.7,212.7L443.4,213.6L446.4,215.9L446.6,215.6L448.5,216.0L451.6,216.4L454.7,217.7L455.2,218.1L456.4,217.7L458.4,218.3L459.3,219.3L460.7,219.9L461.4,220.0L463.1,221.6L464.1,221.8L464.3,221.1L465.3,220.1L462.4,217.0L462.2,215.3L459.8,212.8L461.2,210.2L463.1,209.8L463.7,208.3L462.6,207.8L462.4,206.5L460.7,204.8L459.2,204.9L457.1,203.2L457.8,201.3L457.1,200.7L457.9,198.0L460.4,199.4L460.1,197.6L463.4,194.9L466.5,194.8L471.4,196.5L474.1,197.5L475.9,196.5L479.0,196.4L482.0,197.7L482.3,197.0L485.1,197.1L485.2,195.9L481.4,194.2L482.8,193.0L482.2,192.3L483.8,191.6L481.8,189.9L482.4,189.1L489.3,188.2L489.9,187.6L494.4,186.7L495.6,185.7L499.3,186.2L501.1,188.8L502.9,188.2L505.7,189.0L506.2,190.4L508.0,190.2L511.8,187.9L511.4,188.7L514.8,190.6L522.3,196.9L522.7,195.6L526.1,197.1L528.7,196.4L530.0,196.9L531.7,198.3L533.3,198.8L534.6,199.9L537.1,199.5L538.9,201.1L539.5,200.9L541.5,200.4L544.2,198.3L546.6,197.1L548.7,197.8L550.9,197.9L552.8,199.1L554.8,199.2L558.1,199.8L559.1,198.0L557.4,196.6L558.0,194.0L560.8,195.0L562.8,195.3L565.5,195.9L567.0,197.8L570.4,198.9L572.0,198.4L574.4,198.1L576.6,198.4L579.3,199.6L581.3,200.9L583.1,200.9L585.9,201.3L587.3,200.7L589.7,200.3L591.5,198.5L592.9,198.8L594.5,199.6L596.8,199.4L599.8,200.3L601.6,198.8L600.8,197.6L600.7,195.0L601.3,194.2L600.2,192.8L598.7,192.2L599.4,191.0L601.5,190.5L604.0,190.4L607.5,191.2L610.0,192.1L613.1,194.6L614.6,195.7L616.5,197.2L619.0,199.7L623.0,200.5L626.7,202.3L629.1,204.7L632.2,204.7L633.3,203.7L636.1,203.0L636.6,205.2L636.5,206.2L637.6,209.0L637.9,211.5L635.1,211.0L633.9,211.9L635.8,214.1L637.4,217.2L636.3,217.2L637.1,218.5L637.7,219.0L637.5,218.1L639.2,216.3L641.3,217.5L642.6,217.5L644.4,216.0L644.8,214.4L645.6,211.5L646.4,208.5L645.9,206.7L646.3,203.0L644.2,199.0L641.9,196.0L641.4,193.5L639.5,191.4L634.2,188.6L632.0,188.5L631.8,189.7L629.4,189.1L627.1,187.6L623.8,187.3L625.9,181.5L627.3,176.8L632.6,176.1L638.8,176.5L639.8,175.3L643.1,175.7L644.8,177.4L647.4,177.2L650.9,176.5L647.7,175.1L647.7,171.1L651.4,170.3L656.4,173.2L657.9,170.6L656.6,168.6L658.5,168.4L661.2,171.8L660.2,173.7L659.9,176.1L660.0,179.1L657.7,179.7L658.8,180.8L658.7,182.3L661.4,185.7L667.9,191.2L672.2,194.8L674.6,196.6L675.3,194.2L673.4,191.7L675.7,191.1L673.5,188.3L675.6,187.0L673.6,185.9L672.3,183.9L673.9,183.8L670.2,180.2L667.5,179.7L666.3,178.7L665.9,176.4L664.6,174.8L667.5,175.1L668.0,174.1L669.9,175.0L672.4,173.1L677.1,174.8L676.4,173.7L677.2,172.2L677.8,170.6L679.1,170.3L681.8,168.5L685.8,169.0L685.4,168.4L683.9,167.4L682.2,166.8L678.4,164.9L675.1,163.7L677.7,163.8L678.4,162.8L665.0,153.8L661.1,152.9L654.6,151.8L651.4,152.0L645.2,151.3L645.9,152.3L649.4,153.7L648.4,154.4L642.6,152.5L639.7,152.7L636.0,152.3L633.1,152.3L631.5,152.8L628.6,152.2L626.5,150.6L623.8,149.7L620.0,149.3L614.0,149.7L607.4,148.1L604.2,146.8L587.7,145.5L586.9,146.4L590.7,148.3L587.6,148.0L587.2,148.6L583.2,148.0L581.2,148.6L577.3,147.6L578.6,149.8L575.0,149.0L570.8,147.3L570.7,146.4L568.2,145.1L564.2,144.0L561.7,144.0L557.9,143.6L559.8,145.2L552.7,144.9L551.2,143.9L545.7,143.6L543.5,143.9L543.5,144.4L541.1,143.1L540.1,143.5L537.2,143.0L534.9,142.7L535.4,142.1L538.1,141.0L539.0,140.3L538.0,139.3L535.8,138.5L531.1,137.6L526.6,137.6L525.8,138.0L524.2,137.1L520.4,136.7L521.8,136.3L518.4,135.6L515.9,136.4L515.5,137.3L516.1,138.1L513.3,138.1L511.1,139.1L509.3,138.7L505.5,138.9L505.6,139.5L501.9,139.7L499.9,140.7L498.2,140.8L497.6,142.1L499.9,143.2L496.7,143.5L492.9,143.4L490.5,143.8L492.5,146.0L495.3,147.8L491.3,146.6L488.1,146.7L486.0,147.5L487.9,149.1L485.8,148.7L485.0,146.6L483.3,145.5L482.5,145.5L484.0,147.0L482.1,148.4L485.4,150.2L485.6,152.4L486.8,153.6L488.7,153.8L488.9,155.2L490.7,156.5L489.9,157.6L490.1,158.7L488.6,159.3L488.4,160.1L486.2,159.7L487.6,156.5L487.4,155.1L484.7,153.7L483.1,150.7L481.6,149.2L480.1,148.5L480.5,146.8L479.3,145.6L474.7,145.1L473.8,145.5L474.0,147.4L472.2,149.3L472.7,150.0L474.6,151.7L474.7,152.8L477.1,153.4L478.5,155.7L479.6,154.6L479.1,155.8L471.6,153.2L468.9,152.5L463.6,151.9L463.1,152.6L465.6,153.9L464.4,155.3L461.8,154.0L459.8,154.9L456.6,155.0L455.8,155.7L453.6,155.5L454.6,154.2L453.3,154.1L448.3,156.0L445.2,157.0L445.3,158.5L442.8,159.0L441.2,158.2L440.7,156.9L442.8,156.7L441.3,155.4L436.3,154.7L438.1,156.1L437.7,157.4L439.6,158.7L439.2,160.3L437.3,159.5L435.7,159.4L432.4,161.6L434.1,163.3L432.8,163.9L428.1,162.4L427.3,163.3L428.6,164.3L428.7,165.4L427.1,164.8L424.7,164.1L423.9,161.7L423.5,160.7L420.2,159.0L421.4,158.7L429.6,160.5L432.3,159.9L433.8,158.7L433.1,157.2L431.5,156.1L424.3,153.6L419.5,153.1L416.4,151.8L414.9,152.5ZM47.8,162.8L61.2,153.8L62.8,155.5L63.9,157.7L61.7,159.2L62.1,159.7L64.0,158.1L68.2,158.4L68.6,160.5L65.5,161.5L62.3,161.7L59.1,164.0L57.8,164.5L56.2,164.4L56.0,163.6L54.6,162.9L55.6,161.9L54.4,161.6L52.0,161.9L52.2,161.1L53.8,160.2L50.9,160.8L50.1,161.8ZM658.4,149.8L656.7,149.9L655.3,149.2L655.9,148.3ZM70.3,148.3L70.7,148.2L72.1,148.2L73.4,148.8L72.7,149.1L70.2,149.6L67.8,149.8ZM404.0,186.2L406.1,186.6L407.0,187.0L406.9,187.7L407.1,188.3L403.5,188.3L401.1,188.0L401.4,186.9ZM447.6,143.6L450.3,141.8L449.3,140.9L452.1,139.8L456.3,138.5L461.0,138.1L463.1,137.4L465.8,137.1L467.5,137.9L467.0,138.5L462.3,139.5L458.3,140.5L454.8,142.4L453.7,144.5L452.3,146.5L453.5,148.2L457.6,150.0L456.7,150.2L451.2,149.9L450.3,148.9L447.1,148.4L446.3,147.2L447.7,146.8L447.0,145.6L449.2,143.8ZM509.0,133.4L506.1,133.6L501.3,133.1L498.0,132.4L495.4,131.1L493.0,130.8L495.2,129.6L497.7,129.2L501.6,130.1L507.1,131.8ZM517.9,134.5L510.6,135.2L510.0,132.8L510.9,132.5L512.2,132.7L517.3,133.7ZM574.9,138.7L579.1,138.8L586.4,139.9L587.7,141.4L581.8,141.3L580.0,141.8L574.9,140.5L573.5,139.1ZM588.6,140.0L592.0,140.3L596.8,140.9L596.3,141.6L593.5,141.5L589.3,140.7ZM587.2,143.4L590.6,144.1L591.6,144.7L589.2,144.7L585.6,144.5L585.2,144.4L585.5,143.5ZM427.2,130.8L430.1,129.8L434.5,130.1L433.8,131.0L429.7,131.3ZM649.0,197.2L654.6,201.7L651.0,200.9L652.5,204.5L656.4,207.1L657.6,208.9L654.9,207.4L655.0,209.4L653.1,207.2L651.5,204.7L649.3,202.0L648.3,200.1L645.7,196.7L642.4,194.2L639.7,190.8L640.5,189.7L638.6,188.5L639.2,188.2L641.2,189.8L644.0,192.2L646.1,194.7Z" fill="#66065f"/>
<path d="M460.7,219.9L459.3,219.3L458.4,218.3L456.4,217.7L455.2,218.1L454.7,217.7L451.6,216.4L448.5,216.0L446.6,215.6L446.4,215.9L460.3,220.3L461.6,221.7L461.4,222.0L460.2,221.8L458.5,221.1L458.0,221.5L455.2,221.9L452.9,220.7L450.7,220.8L450.8,219.7L449.9,217.9L448.6,217.0L447.3,216.7Z" fill="#8c96c6"/>
<path d="M455.2,221.9L458.0,221.5L458.6,222.2L459.5,222.6L459.2,223.3L460.5,224.2L460.1,225.0L461.1,225.7L462.1,226.1L462.5,227.9L461.7,228.0L460.6,226.5L460.5,226.1L459.6,226.1L458.8,225.4L458.4,225.5L457.4,224.7L455.8,224.1L455.7,222.8Z" fill="#8c96c6"/>
<path d="M460.7,219.9L461.4,220.0L463.1,221.6L464.1,221.8L464.3,221.1L465.3,220.1L466.8,221.4L468.2,223.3L469.2,223.4L470.0,224.1L468.3,224.3L468.4,226.3L468.2,227.2L467.5,227.8L467.8,229.1L467.3,229.2L465.7,227.9L466.2,226.6L465.4,225.8L464.7,226.0L462.5,227.9L462.1,226.1L461.1,225.7L460.1,225.0L460.5,224.2L459.2,223.3L459.5,222.6L458.6,222.2L458.0,221.5L458.5,221.1L460.2,221.8L461.4,222.0L461.6,221.7L460.3,220.3ZM458.4,225.5L458.8,225.4L459.6,226.1L460.5,226.1L460.6,226.5L461.7,228.0L460.2,227.7L458.9,226.5Z" fill="#8c6bb1"/>
<path d="M463.7,208.3L462.6,207.8L462.4,206.5L460.7,204.8L459.2,204.9L457.1,203.2L457.8,201.3L457.1,200.7L457.9,198.0L460.4,199.4L460.1,197.6L463.4,194.9L466.5,194.8L471.4,196.5L474.1,197.5L475.9,196.5L479.0,196.4L482.0,197.7L482.3,197.0L485.1,197.1L485.2,195.9L481.4,194.2L482.8,193.0L482.2,192.3L483.8,191.6L481.8,189.9L482.4,189.1L489.3,188.2L489.9,187.6L494.4,186.7L495.6,185.7L499.3,186.2L501.1,188.8L502.9,188.2L505.7,189.0L506.2,190.4L508.0,190.2L511.8,187.9L511.4,188.7L514.8,190.6L522.3,196.9L522.7,195.6L526.1,197.1L528.7,196.4L530.0,196.9L531.7,198.3L533.3,198.8L534.6,199.9L537.1,199.5L538.9,201.1L538.1,202.8L536.5,203.0L537.6,205.6L536.9,206.7L532.5,205.9L532.9,210.5L532.1,211.0L528.4,212.0L532.0,216.5L530.8,217.2L531.5,218.7L530.1,218.3L528.7,217.3L525.5,217.1L522.0,217.0L521.3,217.3L518.0,216.2L517.0,216.8L517.2,218.3L513.4,217.4L512.2,217.8L512.1,218.9L511.0,219.4L508.8,221.2L508.4,223.0L507.6,223.0L506.7,221.8L504.0,221.7L502.9,219.6L501.9,219.6L501.3,217.0L498.2,215.1L494.7,215.3L492.4,215.7L489.7,213.4L487.7,212.4L484.0,210.6L483.5,210.3L478.7,211.8L481.2,221.4L480.2,221.5L478.2,219.5L476.6,218.7L474.3,219.3L473.6,220.1L473.4,219.5L473.6,218.4L473.0,217.5L470.4,216.7L468.9,214.3L467.6,213.7L467.3,212.8L469.4,213.1L469.0,211.2L470.6,210.8L472.5,211.2L472.2,208.7L471.5,207.1L469.5,207.2L467.6,206.6L465.5,207.7Z" fill="#88419d"/>
<path d="M481.2,221.4L478.7,211.8L483.5,210.3L484.0,210.6L487.7,212.4L489.7,213.4L492.4,215.7L494.7,215.3L498.2,215.1L501.3,217.0L501.9,219.6L502.9,219.6L504.0,221.7L506.7,221.8L507.6,223.0L508.4,223.0L508.8,221.2L511.0,219.4L512.1,218.9L512.8,219.1L511.5,220.8L513.4,221.8L514.7,221.1L517.6,222.5L515.5,224.4L513.8,224.1L512.9,224.2L512.4,223.4L512.5,222.3L509.9,222.9L509.7,224.5L509.1,226.0L507.3,225.8L507.0,227.0L508.8,227.6L509.7,229.5L509.2,232.2L507.4,231.6L506.2,231.6L505.9,230.0L502.8,228.9L500.2,227.6L498.5,226.4L495.6,224.6L493.8,221.9L493.0,221.5L490.8,221.6L489.8,221.0L489.0,219.0L485.8,217.6L484.5,219.1L482.9,220.0L483.6,221.3Z" fill="#9ebcda"/>
<path d="M473.6,220.1L474.3,219.3L476.6,218.7L478.2,219.5L480.2,221.5L481.2,221.4L483.6,221.3L482.9,220.0L484.5,219.1L485.8,217.6L489.0,219.0L489.8,221.0L490.8,221.6L493.0,221.5L493.8,221.9L495.6,224.6L498.5,226.4L500.2,227.6L502.8,228.9L505.9,230.0L506.2,231.6L505.6,231.5L504.4,230.8L504.3,231.7L502.6,232.3L502.6,234.3L501.6,235.1L500.0,235.5L499.8,236.7L498.2,237.0L495.8,236.1L495.1,233.9L493.5,233.8L490.5,231.5L488.8,231.2L486.1,229.9L484.5,229.6L483.7,230.1L482.2,230.0L481.0,231.5L479.2,232.0L478.4,230.2L478.2,227.5L476.3,226.6L476.5,224.8L475.0,224.7L475.0,222.5L477.2,223.1L478.8,222.3L476.9,220.7L476.0,219.3L474.4,219.9Z" fill="#8c6bb1"/>
<path d="M512.1,218.9L512.2,217.8L513.4,217.4L517.2,218.3L517.0,216.8L518.0,216.2L521.3,217.3L522.0,217.0L525.5,217.1L528.7,217.3L530.1,218.3L531.5,218.7L531.4,219.3L528.6,220.7L528.2,221.7L525.6,222.0L525.4,223.6L523.0,223.3L521.7,223.8L520.0,225.0L520.5,225.6L520.1,226.2L516.2,226.6L513.3,225.8L511.0,226.0L510.8,224.5L513.3,224.9L513.8,224.1L515.5,224.4L517.6,222.5L514.7,221.1L513.4,221.8L511.5,220.8L512.8,219.1Z" fill="#8c6bb1"/>
<path d="M513.8,224.1L513.3,224.9L510.8,224.5L511.0,226.0L513.3,225.8L516.2,226.6L520.1,226.2L521.3,228.6L522.0,228.4L523.4,228.9L523.7,230.0L524.4,231.4L522.2,231.4L520.6,231.2L519.6,232.4L518.7,232.7L518.1,233.2L517.0,232.4L516.6,230.2L516.0,230.1L516.0,229.3L514.7,228.7L514.0,229.6L514.0,230.6L513.8,231.0L512.5,231.0L512.1,232.1L511.3,231.7L509.9,232.5L509.2,232.2L509.7,229.5L508.8,227.6L507.0,227.0L507.3,225.8L509.1,226.0L509.7,224.5L509.9,222.9L512.5,222.3L512.4,223.4L512.9,224.2Z" fill="#8c96c6"/>
<path d="M539.5,200.9L541.5,200.4L544.2,198.3L546.6,197.1L548.7,197.8L550.9,197.9L552.8,199.1L554.8,199.2L558.1,199.8L559.1,198.0L557.4,196.6L558.0,194.0L560.8,195.0L562.8,195.3L565.5,195.9L567.0,197.8L570.4,198.9L572.0,198.4L574.4,198.1L576.6,198.4L579.3,199.6L581.3,200.9L583.1,200.9L585.9,201.3L587.3,200.7L589.7,200.3L591.5,198.5L592.9,198.8L594.5,199.6L596.8,199.4L597.0,201.3L597.1,203.8L598.2,204.9L599.2,204.6L601.5,204.9L602.4,204.0L604.6,204.8L607.5,206.6L607.8,207.5L606.0,207.2L603.3,207.6L602.2,208.3L601.7,210.0L599.1,211.0L597.8,212.3L594.1,211.6L593.9,213.2L595.1,214.2L595.9,215.1L594.9,215.9L594.1,217.3L592.1,218.2L589.0,218.3L586.1,219.2L584.2,220.6L582.9,219.8L580.4,219.8L576.6,218.2L574.3,217.9L571.7,218.2L567.1,217.6L564.8,217.7L562.9,216.2L560.9,213.8L559.5,213.5L556.3,211.9L553.3,211.5L550.7,211.1L549.5,210.0L548.9,207.0L546.6,205.0L543.2,204.0L540.9,202.7Z" fill="#4d004b"/>
<path d="M637.1,218.5L634.8,217.0L634.9,218.5L632.3,219.6L633.4,220.9L631.5,220.9L630.1,220.0L629.7,221.9L628.1,223.3L627.2,224.9L624.6,225.7L623.7,226.9L621.7,227.6L622.3,226.4L621.3,225.4L622.1,223.7L620.3,222.3L618.9,223.2L617.4,225.0L616.9,226.7L614.9,226.8L614.4,228.0L616.3,229.8L618.3,230.2L618.9,231.4L620.9,232.1L622.5,230.3L624.8,231.3L626.3,231.4L627.2,232.7L624.5,233.5L624.1,234.9L622.5,236.2L622.2,238.0L625.1,239.4L626.9,242.0L629.2,244.4L631.4,246.4L632.0,248.3L630.9,249.0L631.9,250.4L633.5,251.2L633.8,253.4L633.9,255.4L632.7,255.7L631.9,258.5L630.9,261.9L629.6,265.0L627.0,267.5L624.2,269.6L621.8,269.9L620.6,271.1L619.7,270.2L618.6,271.6L615.7,272.9L613.4,273.2L613.0,276.0L611.8,276.2L610.9,274.3L611.3,273.2L608.1,272.4L607.1,272.9L604.7,272.2L603.5,271.1L603.6,269.6L601.4,269.1L600.2,268.2L598.5,269.5L596.4,269.9L594.6,269.8L593.5,270.5L592.4,270.8L593.2,273.8L592.0,273.8L591.7,273.1L591.4,272.1L589.9,272.8L588.8,272.4L587.0,271.4L587.3,269.2L585.8,268.7L584.9,266.3L582.6,266.7L582.3,263.6L584.0,261.5L583.6,259.3L583.1,257.3L582.0,256.7L580.9,255.1L579.7,255.3L577.2,255.0L577.7,253.9L576.2,252.2L574.9,253.3L572.9,252.7L570.7,254.4L569.1,256.3L567.4,256.6L566.3,255.9L565.1,255.9L563.4,255.2L562.3,255.9L561.2,257.8L560.6,255.8L559.4,256.3L556.7,256.1L554.1,255.5L552.0,254.4L550.2,253.8L549.2,252.6L547.9,252.2L545.3,250.5L543.3,249.7L542.5,250.3L539.0,248.5L536.5,246.8L535.2,244.0L536.9,244.3L536.6,243.0L535.4,241.6L535.1,239.5L531.9,236.5L528.1,235.4L526.9,233.4L525.0,232.2L524.4,231.4L523.7,230.0L523.4,228.9L522.0,228.4L521.3,228.6L520.1,226.2L520.5,225.6L520.0,225.0L521.7,223.8L523.0,223.3L525.4,223.6L525.6,222.0L528.2,221.7L528.6,220.7L531.4,219.3L531.5,218.7L530.8,217.2L532.0,216.5L528.4,212.0L532.1,211.0L532.9,210.5L532.5,205.9L536.9,206.7L537.6,205.6L536.5,203.0L538.1,202.8L538.9,201.1L539.5,200.9L540.9,202.7L543.2,204.0L546.6,205.0L548.9,207.0L549.5,210.0L550.7,211.1L553.3,211.5L556.3,211.9L559.5,213.5L560.9,213.8L562.9,216.2L564.8,217.7L567.1,217.6L571.7,218.2L574.3,217.9L576.6,218.2L580.4,219.8L582.9,219.8L584.2,220.6L586.1,219.2L589.0,218.3L592.1,218.2L594.1,217.3L594.9,215.9L595.9,215.1L595.1,214.2L593.9,213.2L594.1,211.6L597.8,212.3L599.1,211.0L601.7,210.0L602.2,208.3L603.3,207.6L606.0,207.2L607.8,207.5L607.5,206.6L604.6,204.8L602.4,204.0L601.5,204.9L599.2,204.6L598.2,204.9L597.1,203.8L597.0,201.3L596.8,199.4L599.8,200.3L601.6,198.8L600.8,197.6L600.7,195.0L601.3,194.2L600.2,192.8L598.7,192.2L599.4,191.0L601.5,190.5L604.0,190.4L607.5,191.2L610.0,192.1L613.1,194.6L614.6,195.7L616.5,197.2L619.0,199.7L623.0,200.5L626.7,202.3L629.1,204.7L632.2,204.7L633.3,203.7L636.1,203.0L636.6,205.2L636.5,206.2L637.6,209.0L637.9,211.5L635.1,211.0L633.9,211.9L635.8,214.1L637.4,217.2L636.3,217.2L637.1,218.5ZM613.5,280.3L611.8,281.6L609.8,280.8L609.4,278.5L610.3,277.4L612.6,276.6L614.0,276.7L614.6,277.7L613.8,278.8Z" fill="#bfd3e6"/>
<path d="M636.6,265.4L636.2,269.6L635.6,271.8L634.0,269.6L633.4,267.6L634.1,265.1L635.5,263.1L636.7,263.9Z" fill="#9ebcda"/>
<path d="M637.1,218.5L637.7,219.0L636.4,219.7L636.3,220.6L637.5,222.5L636.7,223.0L636.5,223.5L636.1,224.3L635.0,224.7L634.4,225.4L634.9,226.5L634.8,226.8L635.9,227.2L637.7,228.4L635.4,229.3L635.1,230.5L634.1,230.4L634.1,230.6L632.8,230.1L632.8,230.6L632.3,230.8L632.0,230.3L631.3,230.1L630.5,229.7L630.6,228.5L630.9,228.2L630.5,227.7L630.3,226.3L630.0,225.9L628.6,225.6L627.2,224.9L628.1,223.3L629.7,221.9L630.1,220.0L631.5,220.9L633.4,220.9L632.3,219.6L634.9,218.5L634.8,217.0Z" fill="#9ebcda"/>
<path d="M637.7,228.4L641.0,231.4L642.4,233.1L643.8,236.1L643.6,237.5L641.8,238.0L640.6,239.1L638.7,239.3L637.8,237.9L637.4,236.0L635.2,233.2L636.6,232.8L634.1,230.6L634.1,230.4L635.1,230.5L635.4,229.3ZM639.2,242.2L640.5,241.7L640.2,242.4Z" fill="#88419d"/>
<path d="M666.8,232.3L667.0,234.4L668.1,235.7L667.9,237.5L665.6,238.5L661.8,238.8L661.5,239.6L660.0,241.7L658.0,240.6L657.2,238.8L653.5,239.3L651.7,240.6L649.1,240.6L648.4,239.6L650.1,238.4L650.8,236.6L654.8,235.8L657.4,236.4L657.4,231.8L659.4,233.0L661.3,230.4L661.9,229.4L661.5,226.2L659.5,223.3L659.4,221.6L661.3,221.2L664.6,224.8L665.8,226.9L665.3,229.5ZM648.9,240.6L651.7,242.2L652.1,242.6L652.4,247.0L651.4,248.1L649.9,247.1L649.6,244.7L647.9,244.0L646.2,242.2L648.0,241.4ZM652.5,241.8L653.1,240.2L654.5,240.5L654.9,239.4L656.7,240.0L657.4,240.9L656.8,242.4L655.6,241.6L654.7,242.2L654.8,243.8L653.0,243.0ZM661.9,214.0L663.7,214.5L664.5,213.4L666.9,216.3L664.3,217.0L664.1,219.6L659.7,217.8L660.4,220.7L658.0,220.7L656.1,218.1L655.9,216.1L658.0,216.0L656.2,212.4L655.5,210.4L659.7,213.1Z" fill="#e0ecf4"/>
<path d="M501.0,263.6L507.8,263.2L511.8,262.7L513.8,264.7L516.5,267.3L517.7,265.5L522.7,265.5L521.9,263.3L520.5,262.0L520.0,260.0L518.3,258.8L520.3,256.0L523.0,256.3L524.8,253.5L525.7,250.9L527.3,248.2L526.9,246.4L528.4,244.9L526.3,243.6L525.1,241.8L523.8,239.5L524.6,238.4L528.1,239.1L530.4,238.7L531.9,236.5L528.1,235.4L526.9,233.4L525.0,232.2L523.8,232.5L522.8,233.0L520.4,233.3L518.3,233.8L517.3,235.0L518.1,236.1L518.6,237.4L517.8,238.5L518.2,239.4L517.8,240.4L515.7,240.3L516.9,242.0L515.7,242.7L515.1,244.3L515.6,245.8L514.8,246.6L514.0,246.3L512.4,246.7L512.3,247.4L510.6,247.4L509.7,248.9L510.0,251.1L507.3,252.2L505.7,251.9L505.4,252.5L504.0,252.2L501.8,252.6L497.9,251.2L500.4,254.2L502.7,255.3L503.1,257.6L504.2,258.1L504.6,259.3L501.5,260.6Z" fill="#bfd3e6"/>
<path d="M525.0,232.2L524.4,231.4L522.2,231.4L520.6,231.2L519.6,232.4L518.7,232.7L518.1,233.2L517.0,232.4L516.6,230.2L516.0,230.1L516.0,229.3L514.7,228.7L514.0,229.6L514.0,230.6L513.8,231.0L512.5,231.0L512.1,232.1L511.3,231.7L509.9,232.5L509.2,232.2L507.4,231.6L506.2,231.6L505.6,231.5L504.4,230.8L504.3,231.7L502.6,232.3L502.6,234.3L501.6,235.1L500.0,235.5L499.8,236.7L498.2,237.0L495.8,236.1L495.6,239.3L495.3,241.2L496.4,241.6L495.7,243.0L496.8,245.1L497.3,246.8L499.0,247.2L499.5,248.9L497.9,251.2L501.8,252.6L504.0,252.2L505.4,252.5L505.7,251.9L507.3,252.2L510.0,251.1L509.7,248.9L510.6,247.4L512.3,247.4L512.4,246.7L514.0,246.3L514.8,246.6L515.6,245.8L515.1,244.3L515.7,242.7L516.9,242.0L515.7,240.3L517.8,240.4L518.2,239.4L517.8,238.5L518.6,237.4L518.1,236.1L517.3,235.0L518.3,233.8L520.4,233.3L522.8,233.0L523.8,232.5Z" fill="#f7fcfd"/>
<path d="M501.0,263.6L496.7,262.9L494.2,262.3L491.6,261.9L490.3,258.7L489.2,258.3L487.5,258.7L485.4,260.0L482.6,259.1L480.1,257.1L477.9,256.4L476.1,253.9L474.0,250.4L472.8,250.8L471.3,250.0L470.6,251.0L469.2,249.6L469.0,248.2L468.3,248.2L468.4,246.3L467.0,244.4L464.1,242.9L462.2,240.4L462.4,238.4L463.4,237.5L463.0,236.0L461.4,235.2L459.5,232.1L458.0,230.0L458.3,229.2L457.1,226.2L458.4,225.5L458.9,226.5L460.2,227.7L461.7,228.0L462.5,227.9L464.7,226.0L465.4,225.8L466.2,226.6L465.7,227.9L467.3,229.2L467.8,229.1L468.9,231.0L471.0,231.6L472.7,232.9L475.9,233.3L479.1,232.6L479.2,232.0L481.0,231.5L482.2,230.0L483.7,230.1L484.5,229.6L486.1,229.9L488.8,231.2L490.5,231.5L493.5,233.8L495.1,233.9L495.8,236.1L495.6,239.3L495.3,241.2L496.4,241.6L495.7,243.0L496.8,245.1L497.3,246.8L499.0,247.2L499.5,248.9L497.9,251.2L500.4,254.2L502.7,255.3L503.1,257.6L504.2,258.1L504.6,259.3L501.5,260.6Z" fill="#f7fcfd"/>
<path d="M531.9,236.5L535.1,239.5L535.4,241.6L536.6,243.0L536.9,244.3L535.2,244.0L536.5,246.8L539.0,248.5L542.5,250.3L541.4,251.5L541.0,254.0L543.4,254.9L545.7,256.2L548.9,257.7L552.0,258.0L553.6,259.3L555.3,259.6L558.1,260.2L560.0,260.2L560.0,259.1L559.4,257.5L559.4,256.3L560.6,255.8L561.2,257.8L561.4,258.4L563.6,259.4L564.9,258.9L566.9,259.1L568.6,259.0L568.5,257.5L567.4,256.6L569.1,256.3L570.7,254.4L572.9,252.7L574.9,253.3L576.2,252.2L577.7,253.9L577.2,255.0L579.7,255.3L580.0,256.3L579.4,256.8L579.9,258.4L578.2,258.0L575.7,259.8L576.1,261.2L575.2,263.4L575.4,264.7L574.7,266.9L572.9,266.3L573.2,269.0L572.8,269.9L573.2,270.9L572.2,271.6L570.4,267.4L569.8,267.5L569.7,269.1L568.2,267.8L568.7,266.3L569.7,266.1L570.3,263.9L569.0,263.5L566.9,263.5L564.7,263.1L564.2,261.3L563.1,261.2L561.1,260.1L560.6,261.8L562.5,263.2L561.3,264.2L560.9,265.2L562.4,265.9L562.3,267.4L563.3,269.4L564.0,271.5L563.8,272.5L562.3,272.5L559.6,273.0L559.9,275.0L558.9,276.5L555.9,278.3L553.7,281.3L552.2,283.0L550.1,284.7L550.3,285.9L549.2,286.5L547.3,287.5L546.2,287.6L545.7,289.6L546.5,293.0L546.8,295.1L546.0,297.6L546.3,302.1L545.1,302.2L544.2,304.2L545.0,305.0L542.9,305.8L542.2,307.6L541.3,308.3L539.0,305.9L537.8,302.2L536.7,299.6L535.9,298.4L534.4,295.8L533.6,292.6L533.1,290.9L530.7,287.4L529.3,282.3L528.2,279.0L527.9,275.8L527.2,273.4L524.1,274.9L522.4,274.6L519.1,271.4L520.1,270.5L519.4,269.5L516.5,267.3L517.7,265.5L522.7,265.5L521.9,263.3L520.5,262.0L520.0,260.0L518.3,258.8L520.3,256.0L523.0,256.3L524.8,253.5L525.7,250.9L527.3,248.2L526.9,246.4L528.4,244.9L526.3,243.6L525.1,241.8L523.8,239.5L524.6,238.4L528.1,239.1L530.4,238.7Z" fill="#bfd3e6"/>
<path d="M559.4,256.3L559.4,257.5L560.0,259.1L560.0,260.2L558.1,260.2L555.3,259.6L553.6,259.3L552.0,258.0L548.9,257.7L545.7,256.2L543.4,254.9L541.0,254.0L541.4,251.5L542.5,250.3L543.3,249.7L545.3,250.5L547.9,252.2L549.2,252.6L550.2,253.8L552.0,254.4L554.1,255.5L556.7,256.1Z" fill="#bfd3e6"/>
<path d="M567.4,256.6L568.5,257.5L568.6,259.0L566.9,259.1L564.9,258.9L563.6,259.4L561.4,258.4L561.2,257.8L566.3,255.9L565.1,255.9L563.4,255.2L562.3,255.9Z" fill="#8c96c6"/>
<path d="M572.2,271.6L572.4,273.5L571.6,273.0L572.0,275.2L571.2,273.8L570.9,272.5L570.3,271.2L569.1,269.7L567.0,269.6L567.4,270.7L566.9,272.1L565.8,271.6L565.6,272.0L564.9,271.8L564.0,271.5L563.3,269.4L562.3,267.4L562.4,265.9L560.9,265.2L561.3,264.2L562.5,263.2L560.6,261.8L561.1,260.1L563.1,261.2L564.2,261.3L564.7,263.1L566.9,263.5L569.0,263.5L570.3,263.9L569.7,266.1L568.7,266.3L568.2,267.8L569.7,269.1L569.8,267.5L570.4,267.4Z" fill="#bfd3e6"/>
<path d="M551.1,309.5L550.9,312.2L550.0,312.9L548.0,313.5L546.8,311.5L546.3,307.7L547.1,303.5L548.7,304.9L549.9,306.8Z" fill="#e0ecf4"/>
<path d="M589.3,303.2L590.2,300.5L591.3,298.1L590.1,295.7L590.0,294.5L589.6,293.0L587.9,290.9L587.2,289.6L587.9,289.1L588.5,286.9L587.3,285.1L585.6,283.2L584.2,280.9L585.1,280.5L585.7,277.7L587.3,277.6L588.4,276.4L589.7,275.8L590.0,274.8L591.7,273.1L591.4,272.1L589.9,272.8L588.8,272.4L587.0,271.4L587.3,269.2L585.8,268.7L584.9,266.3L582.6,266.7L582.3,263.6L584.0,261.5L583.6,259.3L583.1,257.3L582.0,256.7L580.9,255.1L579.7,255.3L580.0,256.3L579.4,256.8L579.9,258.4L578.2,258.0L575.7,259.8L576.1,261.2L575.2,263.4L575.4,264.7L574.7,266.9L572.9,266.3L573.2,269.0L572.8,269.9L573.2,270.9L572.2,271.6L572.4,273.5L571.6,273.0L572.0,275.2L573.9,277.3L575.3,277.6L575.1,278.5L577.3,281.6L578.1,284.0L577.8,287.2L579.3,287.9L580.6,288.1L582.9,286.2L584.2,284.9L585.5,287.1L586.3,290.4L587.4,293.5L588.5,294.9L588.6,297.7L589.5,299.2L588.9,301.2Z" fill="#8c96c6"/>
<path d="M589.7,275.8L590.8,276.6L591.1,278.2L592.7,278.3L592.5,281.1L592.9,283.4L595.1,281.8L595.8,282.3L597.1,282.2L597.5,281.3L599.2,281.5L601.3,283.6L601.8,286.2L603.9,288.5L604.1,290.7L603.5,291.9L601.3,291.5L598.4,292.0L597.2,294.2L598.0,297.3L595.9,296.1L593.9,296.1L594.1,294.1L592.0,294.1L592.1,297.0L591.2,300.8L590.7,303.1L590.9,305.0L592.4,305.1L593.5,307.4L594.1,309.7L595.5,311.2L596.9,311.5L598.1,312.9L597.4,313.9L595.9,314.2L595.7,312.9L593.7,311.8L593.4,312.2L592.4,311.2L591.9,309.9L590.6,308.5L589.4,307.2L589.2,308.8L588.6,307.3L588.8,305.7L589.3,303.2L590.2,300.5L591.3,298.1L590.1,295.7L590.0,294.5L589.6,293.0L587.9,290.9L587.2,289.6L587.9,289.1L588.5,286.9L587.3,285.1L585.6,283.2L584.2,280.9L585.1,280.5L585.7,277.7L587.3,277.6L588.4,276.4Z" fill="#bfd3e6"/>
<path d="M591.7,273.1L592.0,273.8L593.2,273.8L592.4,270.8L593.5,270.5L595.1,272.5L596.5,274.9L599.3,274.9L600.5,277.2L599.2,277.9L598.7,278.8L601.6,280.4L604.0,283.5L605.8,285.8L607.7,287.6L608.5,289.4L608.5,292.0L606.3,291.1L605.5,292.9L603.5,291.9L604.1,290.7L603.9,288.5L601.8,286.2L601.3,283.6L599.2,281.5L597.5,281.3L597.1,282.2L595.8,282.3L595.1,281.8L592.9,283.4L592.5,281.1L592.7,278.3L591.1,278.2L590.8,276.6L589.7,275.8L590.0,274.8Z" fill="#e0ecf4"/>
<path d="M607.1,272.9L604.5,275.1L603.0,277.6L602.8,279.4L604.9,282.1L607.5,285.5L609.8,287.1L611.5,289.2L613.2,294.0L613.3,298.6L611.6,300.4L609.1,302.1L607.4,304.2L604.7,306.7L603.8,305.0L604.3,303.2L602.4,301.7L604.3,300.7L606.7,300.5L605.6,298.9L609.2,296.9L609.2,293.8L608.5,292.0L608.5,289.4L607.7,287.6L605.8,285.8L604.0,283.5L601.6,280.4L598.7,278.8L599.2,277.9L600.5,277.2L599.3,274.9L596.5,274.9L595.1,272.5L593.5,270.5L594.6,269.8L596.4,269.9L598.5,269.5L600.2,268.2L601.4,269.1L603.6,269.6L603.5,271.1L604.7,272.2Z" fill="#bfd3e6"/>
<path d="M598.0,297.3L597.2,294.2L598.4,292.0L601.3,291.5L603.5,291.9L605.5,292.9L606.3,291.1L608.5,292.0L609.2,293.8L609.2,296.9L605.6,298.9L606.7,300.5L604.3,300.7L602.4,301.7L600.5,301.4L599.4,300.0Z" fill="#e0ecf4"/>
<path d="M593.4,312.2L593.7,311.8L595.7,312.9L595.9,314.2L597.4,313.9L598.1,312.9L598.7,313.1L600.1,314.7L601.1,316.4L601.3,318.2L601.1,319.4L601.4,320.3L601.6,321.8L602.4,322.5L603.4,324.8L603.4,325.7L601.7,325.9L599.5,324.0L596.7,321.9L596.4,320.6L595.0,318.8L594.6,316.7L593.8,315.2L593.9,313.3ZM615.8,323.9L617.6,324.8L619.3,324.3L619.7,322.1L620.7,321.6L623.5,321.0L625.0,318.9L626.1,317.3L627.2,318.6L627.6,317.7L628.8,317.8L628.8,316.2L628.8,314.9L630.5,313.1L631.6,311.0L632.5,311.0L633.8,312.3L633.9,313.5L635.5,314.2L637.4,315.0L637.3,316.0L635.8,316.1L636.3,317.4L634.6,318.3L632.6,317.9L629.9,317.9L629.3,320.8L628.4,321.7L627.3,325.4L625.4,325.9L623.2,325.2L622.1,325.4L620.8,326.8L619.3,326.5L617.9,327.1L616.3,325.6Z" fill="#e0ecf4"/>
<path d="M626.1,317.3L627.0,316.3L628.8,314.9L628.8,316.2L628.8,317.8L627.6,317.7L627.2,318.6Z" fill="#bfd3e6"/>
<path d="M582.4,314.8L587.5,315.4L589.7,318.0L591.5,319.7L592.8,320.8L595.0,323.6L597.4,323.7L599.4,325.4L600.7,327.6L602.5,328.8L601.6,331.0L602.9,331.9L603.7,331.9L604.0,333.7L604.8,335.2L606.5,335.4L607.6,337.1L606.9,340.3L606.6,344.4L604.1,344.4L602.2,342.3L599.4,340.1L598.4,338.5L596.7,336.4L595.6,334.5L594.0,330.8L591.9,328.6L591.2,326.4L590.4,324.3L588.2,322.7L587.0,320.5L585.2,319.0L582.7,316.1ZM607.2,344.5L610.0,344.6L611.7,345.7L612.7,345.9L612.9,346.8L617.4,347.1L617.9,346.0L622.1,347.2L622.8,348.9L626.3,349.4L629.0,350.9L626.3,351.9L623.8,350.9L621.7,351.0L619.4,350.8L617.3,350.3L614.7,349.3L613.0,349.0L612.0,349.4L607.9,348.3L607.5,347.2L605.5,347.0ZM634.6,318.3L633.4,320.7L635.2,323.1L634.8,324.3L637.4,326.8L634.7,327.1L634.0,328.8L634.0,331.2L631.8,333.0L631.6,335.6L630.6,339.6L630.3,338.7L627.6,339.8L626.8,338.2L625.2,338.1L624.1,337.2L621.3,338.2L620.5,336.9L619.0,337.1L617.1,336.7L616.8,333.2L615.7,332.5L614.6,330.3L614.3,328.0L614.5,325.6L615.8,323.9L616.3,325.6L617.9,327.1L619.3,326.5L620.8,326.8L622.1,325.4L623.2,325.2L625.4,325.9L627.3,325.4L628.4,321.7L629.3,320.8L629.9,317.9L632.6,317.9ZM651.8,325.4L650.0,328.0L648.3,328.5L646.0,328.0L642.2,328.1L640.2,328.5L639.8,330.5L641.9,332.8L643.1,331.6L647.4,330.7L647.2,331.9L646.2,331.5L645.2,333.1L643.2,334.1L645.2,337.4L644.8,338.3L646.7,341.3L646.6,343.0L645.4,343.8L644.5,342.9L645.7,340.7L643.4,341.8L642.9,341.0L643.2,340.0L641.6,338.5L641.9,336.0L640.3,336.7L640.4,339.8L640.3,343.5L638.8,343.9L637.9,343.1L638.6,340.7L638.4,338.2L637.4,338.2L636.8,336.4L637.8,334.7L638.1,332.6L639.4,328.7L639.8,327.6L641.8,325.7L643.6,326.5L646.5,326.8L649.1,326.7L651.4,324.8ZM688.0,335.9L686.9,352.9L685.1,350.8L682.9,350.2L682.2,351.0L679.3,351.0L680.5,348.9L682.0,348.2L681.6,345.4L680.6,343.2L676.3,341.0L674.4,340.7L671.0,338.3L670.3,339.6L669.4,339.8L668.9,338.9L668.9,337.7L667.2,336.5L669.8,335.5L671.4,335.6L671.2,334.9L667.8,334.9L667.0,333.3L664.9,332.8L664.0,331.6L667.1,330.9L668.3,330.1L672.0,331.1L672.3,332.1L672.8,336.3L675.2,337.9L677.2,335.1L679.9,333.5L681.9,333.5L683.9,334.5L685.6,335.4ZM650.2,352.3L650.3,352.8L650.3,353.6L648.6,355.6L646.6,356.1L646.4,355.8L646.7,354.9L647.8,353.3ZM630.8,350.8L634.1,350.2L636.6,350.8L636.2,352.1L631.2,352.3ZM638.6,351.0L645.6,350.2L645.2,351.8L638.8,352.1ZM636.3,353.6L639.5,354.2L640.3,355.5L636.7,354.7ZM656.8,326.5L658.1,323.4L659.5,325.2L659.8,328.3L658.0,329.9L658.2,327.3ZM658.0,337.2L663.8,336.9L664.4,339.0L661.4,338.2L658.2,338.0ZM653.4,337.5L655.9,337.5L655.6,339.0L653.6,338.8ZM671.7,345.0L673.1,344.0L673.0,346.3L671.8,347.1Z" fill="#e0ecf4"/>
<path d="M650.2,352.3L650.5,351.7L652.5,351.1L654.1,351.0L654.9,350.7L655.7,351.0L654.8,351.7L652.3,352.9L650.3,353.6L650.3,352.8Z" fill="#e0ecf4"/>
<path d="M637.2,280.8L638.5,280.8L640.1,281.5L640.6,280.9L641.0,281.5L640.8,282.6L641.9,284.5L641.6,286.7L640.4,287.5L640.4,289.6L641.2,291.7L642.4,292.0L643.4,291.7L646.5,293.1L646.4,294.5L647.3,295.2L647.2,296.4L645.2,295.1L644.2,293.7L643.7,294.7L642.1,293.1L640.1,293.5L638.8,292.9L638.8,291.9L639.4,291.2L638.7,290.6L638.5,291.5L637.2,290.0L636.7,288.9L636.2,286.4L637.3,287.3L636.8,283.2ZM653.5,307.2L653.9,308.9L654.1,310.3L653.5,312.7L652.4,310.1L651.5,311.4L652.3,313.3L651.7,314.5L648.9,313.0L648.2,311.1L648.8,309.9L647.2,308.7L646.6,309.7L645.5,309.6L643.9,311.1L643.5,310.3L644.2,308.1L645.6,307.4L646.8,306.4L647.7,307.6L649.4,306.9L649.7,305.7L651.3,305.6L651.0,303.6L652.9,304.9L653.3,306.2ZM649.7,296.5L651.5,300.4L649.6,299.6L647.7,296.5ZM642.6,298.0L645.2,298.8L644.4,302.0L642.6,300.7ZM645.4,300.4L646.4,301.7L645.6,305.3L644.1,303.8L644.8,302.2ZM632.4,307.2L637.2,301.4L637.5,299.3L636.2,303.0L633.4,305.3ZM638.2,293.9L641.1,294.9L640.9,297.3L639.6,296.0ZM648.0,299.1L649.6,299.6L650.3,302.0L649.5,302.7L648.4,300.7ZM646.3,303.0L647.4,299.9L647.8,302.2ZM647.2,303.3L649.0,302.7L648.7,304.0Z" fill="#e0ecf4"/>
<path d="M691.3,365.0L691.8,367.1L693.4,366.1L694.9,368.2L694.5,369.4L694.6,371.6L695.3,375.5L694.8,376.8L695.2,378.6L697.3,379.9L699.9,382.3L699.5,382.9L700.4,384.6L700.7,387.4L701.7,386.8L702.3,388.0L703.0,387.6L702.7,390.3L703.9,391.9L704.6,392.9L705.8,395.1L705.8,397.1L705.4,398.6L704.7,400.2L704.9,402.5L703.9,404.8L701.5,408.3L700.9,409.8L699.7,411.7L697.6,414.1L695.4,415.3L693.6,417.4L692.2,418.6L690.4,420.9L688.9,422.2L687.4,424.1L686.1,425.9L685.8,426.8L684.0,427.7L681.5,427.8L679.0,428.8L677.4,429.8L675.5,431.0L674.4,429.8L673.3,429.4L674.4,428.0L673.0,428.5L670.0,430.4L668.6,429.7L667.6,429.3L666.5,429.1L664.8,428.3L664.3,426.7L664.9,424.7L665.5,422.4L664.5,422.4L662.5,422.0L663.9,420.8L664.2,418.8L662.3,420.7L660.2,421.1L662.0,419.7L663.0,418.2L664.4,416.9L665.1,415.0L662.3,417.2L660.6,418.1L658.8,420.2L657.6,419.1L658.3,417.7L657.7,415.8L657.0,414.8L657.6,414.2L655.5,412.6L654.0,412.6L652.3,411.3L648.3,411.5L645.1,412.5L642.2,413.4L640.2,413.2L637.4,414.5L635.2,415.1L634.3,416.5L633.1,417.6L631.2,417.6L629.7,417.8L628.0,417.4L626.3,417.7L624.7,417.8L622.9,419.2L622.3,419.0L620.9,419.8L619.5,420.6L618.0,420.5L616.6,420.5L614.9,418.9L613.9,418.4L614.5,416.8L615.7,416.5L616.3,415.9L616.6,415.0L617.5,413.2L617.8,411.6L617.5,409.0L617.6,407.5L618.2,406.0L617.8,404.3L617.9,403.5L617.2,402.5L617.5,400.4L616.7,398.4L616.7,397.3L617.4,398.4L617.2,396.0L618.2,396.7L618.6,397.7L618.9,396.4L618.2,394.3L618.2,393.5L617.8,392.7L618.4,391.2L619.0,390.6L619.5,389.3L619.5,387.8L620.8,385.9L620.6,387.9L621.9,386.1L623.9,385.2L625.2,384.1L627.1,383.1L628.2,382.9L628.7,383.3L630.7,382.3L632.1,382.0L632.5,381.4L633.2,381.2L634.4,381.2L636.9,380.5L638.4,379.3L639.2,377.9L640.8,376.6L641.0,375.6L641.3,374.1L643.3,371.9L643.9,374.2L644.9,373.7L644.3,372.4L645.3,371.1L646.2,371.7L646.8,369.7L648.2,368.5L648.9,367.4L650.1,367.0L650.3,366.2L651.2,366.6L651.4,365.9L652.4,365.5L653.6,365.2L655.1,366.4L656.1,367.9L657.6,367.9L659.0,368.2L658.7,366.7L660.1,364.6L661.2,364.0L660.9,363.3L662.1,361.8L663.6,360.9L664.8,361.2L666.8,360.7L666.9,359.4L665.3,358.5L666.6,358.1L668.0,358.8L669.1,359.9L670.9,360.5L671.6,360.3L672.9,361.1L674.4,360.3L675.2,360.6L675.8,360.1L676.7,361.3L675.9,362.7L674.9,363.8L674.1,363.9L674.2,364.9L673.3,366.2L672.3,367.5L672.4,368.2L674.0,369.7L675.6,370.5L676.6,371.4L677.9,373.0L678.6,373.0L679.7,373.6L679.8,374.4L681.8,375.3L683.5,374.4L684.2,373.0L684.9,371.9L685.5,370.4L686.5,368.4L686.4,367.1L686.7,366.3L686.7,364.9L687.2,362.9L687.8,362.4L687.5,361.5L688.3,360.1L688.9,358.7L689.0,357.9L690.0,356.9L690.5,358.2L690.4,359.8L691.0,360.2L690.9,361.3L691.6,362.6L691.5,364.1ZM670.8,435.5L672.2,436.4L673.6,436.0L675.6,435.6L676.8,435.7L674.9,438.8L673.6,439.7L671.9,441.8L671.7,441.1L669.0,442.8L668.7,442.7L667.5,442.6L667.7,440.4L668.5,438.7L668.7,436.5L669.5,435.3Z" fill="#9ebcda"/>
<path d="M738.8,433.6L737.0,435.0L734.6,436.8L732.1,437.8L732.3,437.2L731.7,436.8L734.6,434.6L734.9,433.2L733.3,432.2L734.1,431.3L736.2,430.3L737.9,428.3L739.0,426.6L739.2,424.9L739.6,424.4L739.2,423.4L738.8,421.1L739.0,419.2L740.0,419.0L740.3,420.5L741.6,421.2L740.8,423.5L740.6,426.2L741.8,424.4L742.3,425.1L741.4,427.1L742.5,428.0L743.9,428.2L745.7,427.2L746.6,427.5L744.5,429.8L742.8,431.3L741.2,431.3L740.1,432.0L739.5,433.1ZM716.7,442.7L719.5,441.3L721.9,440.0L724.3,438.0L725.6,437.4L727.0,435.9L729.3,434.7L729.0,435.8L728.7,436.9L731.0,435.9L730.7,437.0L729.9,438.0L728.2,439.2L725.3,441.1L723.4,442.2L723.2,443.4L721.5,443.5L719.0,444.4L717.0,446.1L713.7,448.7L711.1,449.8L709.5,450.6L707.7,450.5L707.0,449.7L705.0,449.5L705.4,448.5L708.0,446.6L712.7,444.1L714.4,443.6Z" fill="#8c96c6"/>
<path d="M688.0,335.9L692.0,337.7L696.1,339.2L697.6,340.5L698.9,341.8L699.1,343.4L702.9,345.0L703.3,346.4L701.2,346.6L701.5,348.4L703.4,350.1L704.7,352.9L706.0,352.8L705.8,353.9L707.5,354.4L706.8,354.9L709.1,356.0L708.8,356.7L707.2,356.9L706.7,356.2L704.8,355.9L702.5,355.5L700.9,353.9L699.8,352.4L698.8,350.2L695.9,349.0L693.9,349.8L692.4,350.6L692.5,352.5L690.6,353.5L689.4,353.0L687.0,352.9L686.9,352.9ZM710.3,336.3L713.8,337.6L715.6,339.5L715.8,340.8L715.0,341.5L714.6,340.0L714.2,339.0L711.9,337.0ZM712.9,343.4L711.7,343.6L711.3,344.3L708.8,345.6L707.6,345.6L705.7,344.8L704.5,344.1L704.7,343.3L706.7,343.7L708.0,343.5L708.8,342.1L708.9,343.5L710.2,343.4L712.3,341.5L712.1,340.0L713.5,339.9L713.9,340.3L713.8,341.8ZM719.4,343.0L720.0,343.6L721.0,345.3L722.0,346.2L721.6,346.9L721.0,347.2L720.1,346.2L719.2,344.5L718.8,342.5Z" fill="#e0ecf4"/>
<path d="M729.6,354.3L731.3,353.6L732.0,354.2L732.3,354.9L730.0,354.7ZM732.9,350.8L733.5,352.9L734.3,354.2L733.9,354.6L732.4,352.4ZM727.7,349.3L728.2,348.8L730.0,350.0L730.5,350.9L730.5,351.4L728.8,350.3ZM723.2,346.3L724.5,347.4L725.4,348.3L723.9,347.8L723.1,346.8ZM734.1,355.7L735.5,357.4L733.9,357.3L733.2,356.0ZM724.4,350.2L725.7,350.5L725.9,351.5L724.7,351.3Z" fill="#e0ecf4"/>
<path d="M743.6,367.3L744.6,368.1L744.5,370.2L743.4,370.0ZM744.3,370.6L745.4,372.1L744.6,372.4L744.1,371.3ZM745.6,374.8L746.4,375.3L745.6,375.8Z" fill="#e0ecf4"/>
<path d="M737.8,384.1L739.3,385.7L740.1,386.9L739.1,387.6L738.0,386.9L736.7,385.7L735.6,384.3L734.6,382.4L734.5,381.6L735.4,381.6L736.5,382.5L737.3,383.4Z" fill="url(#hatch)" stroke="#b8b8b8"/>
<path d="M768.8,374.4L769.4,375.1L768.7,376.5L767.2,376.8L766.0,376.5L766.1,375.3L767.2,374.5ZM771.4,372.9L769.8,373.5L769.8,372.5L771.1,372.0L771.8,371.9L773.3,371.0L773.0,372.3Z" fill="#e0ecf4"/>
</g>
<g id="legend">
<text class="leg" x="122.3" y="529.8" textLength="47" lengthAdjust="spacingAndGlyphs">No data</text>
<line x1="122.5" y1="533.5" x2="122.5" y2="537" stroke="#999" stroke-width="0.6"/>
<rect x="98.5" y="537" width="48" height="11.5" fill="url(#hatchL)" stroke="#b5b5b5" stroke-width="0.6"/>
<rect x="166.0" y="537.0" width="58.5" height="11.5" fill="#f7fcfd"/>
<rect x="224.5" y="537.0" width="58.5" height="11.5" fill="#e0ecf4"/>
<rect x="283.0" y="537.0" width="58.5" height="11.5" fill="#bfd3e6"/>
<rect x="341.5" y="537.0" width="58.5" height="11.5" fill="#9ebcda"/>
<rect x="400.0" y="537.0" width="58.5" height="11.5" fill="#8c96c6"/>
<rect x="458.5" y="537.0" width="58.5" height="11.5" fill="#8c6bb1"/>
<rect x="517.0" y="537.0" width="58.5" height="11.5" fill="#88419d"/>
<rect x="575.5" y="537.0" width="58.5" height="11.5" fill="#810f7c"/>
<rect x="634.0" y="537.0" width="58.5" height="11.5" fill="#66065f"/>
<path d="M692.5,537.0 L746.0,537.0 L751.0,542.8 L746.0,548.5 L692.5,548.5 Z" fill="#4d004b"/>
<path d="M166.0,537.0 L746.0,537.0 L751.0,542.8 L746.0,548.5 L166.0,548.5 Z" fill="none" stroke="#a8a8a8" stroke-width="0.6"/>
<line x1="166.0" y1="533.5" x2="166.0" y2="548.5" stroke="#8e8e8e" stroke-width="0.6"/>
<text class="leg" x="166.0" y="529.8">0%</text>
<line x1="224.5" y1="533.5" x2="224.5" y2="548.5" stroke="#8e8e8e" stroke-width="0.6"/>
<text class="leg" x="224.5" y="529.8">0.5%</text>
<line x1="283.0" y1="533.5" x2="283.0" y2="548.5" stroke="#8e8e8e" stroke-width="0.6"/>
<text class="leg" x="283.0" y="529.8">1%</text>
<line x1="341.5" y1="533.5" x2="341.5" y2="548.5" stroke="#8e8e8e" stroke-width="0.6"/>
<text class="leg" x="341.5" y="529.8">1.5%</text>
<line x1="400.0" y1="533.5" x2="400.0" y2="548.5" stroke="#8e8e8e" stroke-width="0.6"/>
<text class="leg" x="400.0" y="529.8">2%</text>
<line x1="458.5" y1="533.5" x2="458.5" y2="548.5" stroke="#8e8e8e" stroke-width="0.6"/>
<text class="leg" x="458.5" y="529.8">2.5%</text>
<line x1="517.0" y1="533.5" x2="517.0" y2="548.5" stroke="#8e8e8e" stroke-width="0.6"/>
<text class="leg" x="517.0" y="529.8">3%</text>
<line x1="575.5" y1="533.5" x2="575.5" y2="548.5" stroke="#8e8e8e" stroke-width="0.6"/>
<text class="leg" x="575.5" y="529.8">3.5%</text>
<line x1="634.0" y1="533.5" x2="634.0" y2="548.5" stroke="#8e8e8e" stroke-width="0.6"/>
<text class="leg" x="634.0" y="529.8">4%</text>
<line x1="692.5" y1="533.5" x2="692.5" y2="548.5" stroke="#8e8e8e" stroke-width="0.6"/>
<text class="leg" x="692.5" y="529.8">4.5%</text>
</g>
<text class="foot" x="16" y="580.9" font-weight="700" textLength="71" lengthAdjust="spacingAndGlyphs">Data source:</text>
<text class="foot" x="90.3" y="580.9" textLength="226" lengthAdjust="spacingAndGlyphs">IHME, Global Burden of Disease (2025)</text>
<text class="foot" x="543" y="580.9" textLength="287.5" lengthAdjust="spacingAndGlyphs">OurWorldinData.org/alcohol-consumption | CC BY</text>
</svg>
</body></html>
